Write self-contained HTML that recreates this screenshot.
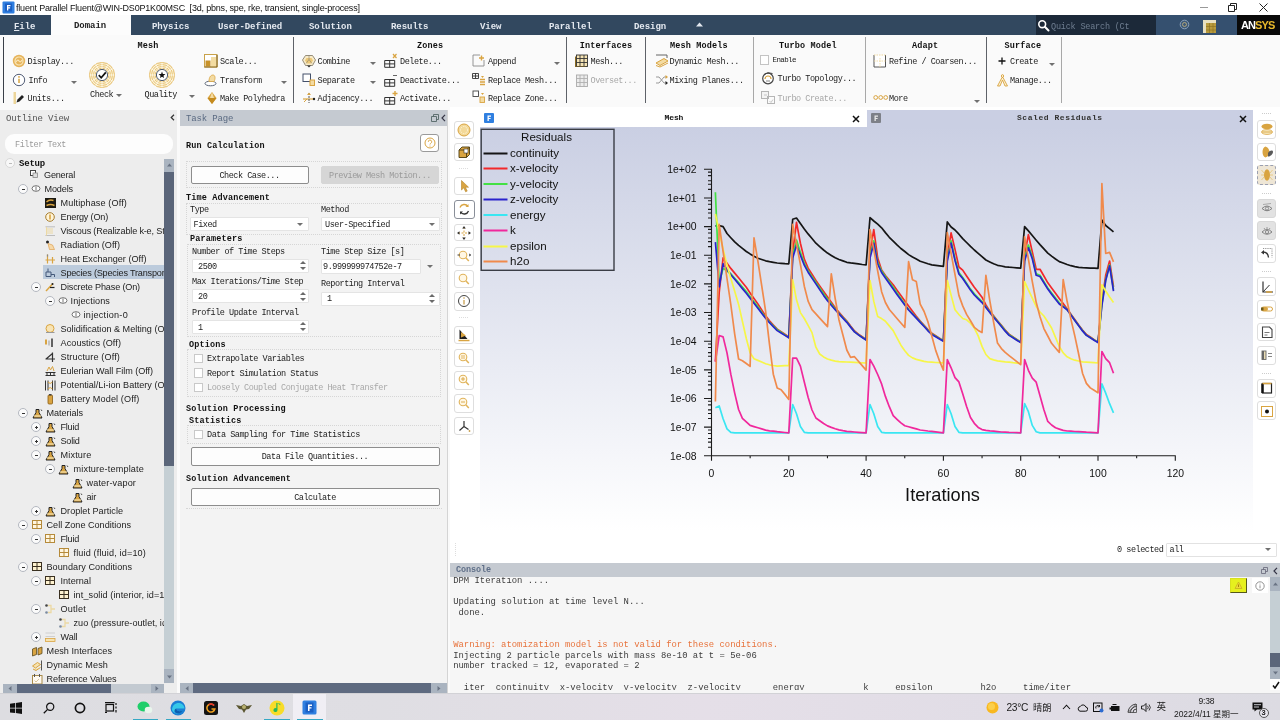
<!DOCTYPE html>
<html><head><meta charset="utf-8"><title>fluent</title>
<style>
*{box-sizing:border-box;margin:0;padding:0}
html,body{width:1280px;height:720px;overflow:hidden;background:#f0f0f0}
body{position:relative;-webkit-font-smoothing:antialiased;font-family:"Liberation Sans","Noto Sans CJK SC",sans-serif;font-size:10px;color:#222}
.a{position:absolute;white-space:nowrap}
#title,#tabbar,#ribbon,#outline,#task,#gfx,#con,#tbar{will-change:transform}
.m{font-family:"Liberation Mono",monospace;font-size:8.5px;letter-spacing:-0.47px;color:#222;line-height:10px}
.b{font-weight:bold;color:#111;letter-spacing:0.15px}
.g{color:#a8a8a8}
.s{font-family:"Liberation Sans","Noto Sans CJK SC",sans-serif;font-size:9.5px;color:#222;line-height:12px}
#title{left:0;top:0;width:1280px;height:15px;background:#fff}
#tabbar{left:0;top:15px;width:1280px;height:19.800px;background:#32485f}
.tab{position:absolute;top:6.500px;font-family:"Liberation Mono",monospace;font-weight:bold;font-size:9px;letter-spacing:-0.05px;color:#e4e9f0;line-height:10px;white-space:nowrap}
#ribbon{left:0;top:35px;width:1280px;height:75px;background:#fafafa}
.sep{position:absolute;top:2px;width:1px;height:66px;background:#70757c}
.dd{position:absolute;width:0;height:0;border-left:3px solid transparent;border-right:3px solid transparent;border-top:3.200px solid #707070;margin-left:-0.500px}
.fld{position:absolute;background:#fff;border:1px solid #e4e4e4;border-radius:1px}

#outline{left:0;top:110px;width:177px;height:583px;background:#ededed}
.tr{position:absolute;font-family:"Liberation Sans",sans-serif;font-size:9.100px;line-height:12px;color:#1d1d1d;white-space:nowrap}
.ex{position:absolute;width:10px;height:10px;border-radius:50%;background:#fbfbfb;border:1px solid #b4b8c0}
.ex:before{content:"";position:absolute;left:2.500px;top:3.500px;width:3px;height:1px;background:#333}
.ex.p:after{content:"";position:absolute;left:3.500px;top:2.500px;width:1px;height:3px;background:#333}

#task{left:177px;top:107px;width:273px;height:586px;background:#fafafa}
#taskb{left:3px;top:19px;width:267px;height:557px;background:#f3f3f3}
.btn{position:absolute;background:#fdfdfd;border:1px solid #8d8d8d;border-radius:2px;text-align:center}
.fld{position:absolute;background:#fff;border:1px solid #e4e4e4;border-radius:1px}
.gb{position:absolute;border:1px dotted #d6d6d6}
.cb{position:absolute;width:9.500px;height:9.500px;background:#fff;border:1px solid #c9c9c9}
.sp{position:absolute;width:6px;height:10px;margin-left:-0.500px;margin-top:-0.500px}
.sp:before{content:"";position:absolute;left:0;top:0;border-left:3px solid transparent;border-right:3px solid transparent;border-bottom:3.500px solid #6a6a6a}
.sp:after{content:"";position:absolute;left:0;top:6px;border-left:3px solid transparent;border-right:3px solid transparent;border-top:3.500px solid #6a6a6a}

#gfx{left:450px;top:107px;width:830px;height:456px;background:#fff}
.tb{position:absolute;width:19px;height:18.500px;background:#fff;border:1px solid #dedede;border-radius:3px}
.ch{font-family:"Liberation Sans",sans-serif;fill:#111}

#con{left:450px;top:563px;width:830px;height:130px;background:#f6f6f6}
.cl{position:absolute;left:3.200px;font-family:"Liberation Mono",monospace;font-size:8.880px;line-height:10.700px;color:#3c3c3c;white-space:pre}

#tbar{left:0;top:693px;width:1280px;height:27px;background:linear-gradient(90deg,#dddde1 0%,#dfdee3 30%,#e5dfe8 55%,#e1dde6 78%,#dcdbe2 100%);border-top:1px solid #d2d2d6}
.tt{position:absolute;font-family:"Liberation Sans","Noto Sans CJK SC",sans-serif;color:#1a1a1a;white-space:nowrap;line-height:12px}
</style></head><body>
<div class="a" id="title">
<svg class="a" style="left:2px;top:1px" width="13" height="13" viewBox="0 0 13 13"><rect x="0.5" y="0.5" width="12" height="12" rx="1" fill="#2f7fe0"/><rect x="3" y="2.5" width="7" height="8" fill="#1b5fc4"/><path d="M5 4h3.5v1.2H6.3v1.1h1.8v1.1H6.3V9.5H5z" fill="#fff"/></svg>
<div class="a s" style="left:16px;top:1.800px;font-size:9px;letter-spacing:-0.19px;color:#111">fluent Parallel Fluent@WIN-DS0P1K00MSC&nbsp; [3d, pbns, spe, rke, transient, single-process]</div>
<div class="a" style="left:1200px;top:7px;width:8px;height:1px;background:#999"></div>
<svg class="a" style="left:1228px;top:3px" width="9" height="9" viewBox="0 0 9 9"><path d="M0.5 2.5h6v6h-6z M2.5 2.5v-2h6v6h-2" fill="none" stroke="#222" stroke-width="1"/></svg>
<svg class="a" style="left:1259px;top:3px" width="9" height="9" viewBox="0 0 9 9"><path d="M0.5 0.5l8 8M8.5 0.5l-8 8" fill="none" stroke="#222" stroke-width="1"/></svg>
</div>
<div class="a" id="tabbar">

<div class="a" style="left:50.500px;top:0;width:80.300px;height:21px;background:#fcfcfc"></div>
<div class="tab" style="left:14px"><u>F</u>ile</div>
<div class="tab" style="left:74px;top:5.500px;color:#222">Domain</div>
<div class="tab" style="left:152px">Physics</div>
<div class="tab" style="left:218px">User-Defined</div>
<div class="tab" style="left:309px">Solution</div>
<div class="tab" style="left:391px">Results</div>
<div class="tab" style="left:480px">View</div>
<div class="tab" style="left:549px">Parallel</div>
<div class="tab" style="left:634px">Design</div>
<svg class="a" style="left:696px;top:7px" width="7" height="5" viewBox="0 0 7 5"><path d="M0 4.5L3.5 0.5L7 4.5z" fill="#e4e9f0"/></svg>
<div class="a" style="left:1036px;top:0;width:120px;height:20px;background:#1c2939"></div>
<div class="a" style="left:1156px;top:0;width:81px;height:20px;background:#35506f"></div>
<svg class="a" style="left:1037px;top:4px" width="13" height="13" viewBox="0 0 13 13"><circle cx="5.2" cy="5.2" r="3.4" fill="none" stroke="#fff" stroke-width="1.6"/><path d="M7.8 7.8L11.5 11.5" stroke="#fff" stroke-width="2" stroke-linecap="round"/></svg>
<div class="tab" style="left:1051px;font-weight:normal;font-size:8.5px;color:#6e7d90;letter-spacing:-0.2px">Quick Search (Ct</div>
<svg class="a" style="left:1179px;top:4px" width="11" height="11" viewBox="0 0 11 11"><circle cx="5.5" cy="5.5" r="4.3" fill="#3e5a7a" stroke="#8aa0b8" stroke-width="1"/><circle cx="5.5" cy="5.5" r="2" fill="none" stroke="#c9b57a" stroke-width="0.8"/></svg>
<svg class="a" style="left:1203px;top:5px" width="13" height="13" viewBox="0 0 13 13"><rect x="0" y="0" width="13" height="13" fill="#e8e0c0"/><rect x="3" y="3" width="10" height="10" fill="#b89a3c"/><path d="M3 6.5h10M3 10h10M6.5 3v10M10 3v10" stroke="#8a6f20" stroke-width="0.6"/></svg>
<div class="a" style="left:1237px;top:0;width:43px;height:20px;background:#0a0a0a"></div>
<div class="a" style="left:1241px;top:4px;font-family:'Liberation Sans',sans-serif;font-weight:bold;font-size:11px;letter-spacing:-0.9px;line-height:12px;color:#fff">AN<span style="color:#e8b92c">SYS</span></div>
</div>
<div class="a" id="ribbon">
<div class="sep" style="left:3px;background:#3a4048"></div>
<div class="sep" style="left:293px;background:#5e6268"></div>
<div class="sep" style="left:566px;background:#5e6268"></div>
<div class="sep" style="left:645px;background:#5e6268"></div>
<div class="sep" style="left:753px;background:#a8a8a8"></div>
<div class="sep" style="left:865px;background:#a8a8a8"></div>
<div class="sep" style="left:986px;background:#5e6268"></div>
<div class="sep" style="left:1061px;background:#a8a8a8"></div>
<div class="a m b" style="left:137.5px;top:6.2px;">Mesh</div>
<div class="a m b" style="left:416.9px;top:6.2px;">Zones</div>
<div class="a m b" style="left:579.8px;top:6.2px;">Interfaces</div>
<div class="a m b" style="left:670.1px;top:6.2px;">Mesh Models</div>
<div class="a m b" style="left:779.1px;top:6.2px;">Turbo Model</div>
<div class="a m b" style="left:911.9px;top:6.2px;">Adapt</div>
<div class="a m b" style="left:1004.6px;top:6.2px;">Surface</div>
<svg class="a" style="left:12px;top:19px" width="14" height="14" viewBox="0 0 14 14"><circle cx="7" cy="7" r="6.200" fill="#e6b45c"/><circle cx="7" cy="7" r="4" fill="none" stroke="#f9e6b8" stroke-width="1.200"/><path d="M4 8q1.500-3 3-1t3-1" fill="none" stroke="#f9e6b8" stroke-width="1.200"/></svg>
<div class="a m" style="left:27.5px;top:22.2px;">Display...</div>
<svg class="a" style="left:12px;top:38px" width="14" height="14" viewBox="0 0 14 14"><circle cx="7" cy="7" r="5.700" fill="#fff" stroke="#3f4c68" stroke-width="0.900"/><path d="M7 5.8v4.2" stroke="#d9a441" stroke-width="1.5"/><circle cx="7" cy="3.9" r="0.9" fill="#d9a441"/></svg>
<div class="a m" style="left:28.5px;top:41.2px;">Info</div>
<div class="dd" style="left:71.5px;top:45.5px"></div>
<svg class="a" style="left:12px;top:56px" width="14" height="14" viewBox="0 0 14 14"><rect x="1.500" y="1" width="2.500" height="12" fill="#ecd59a"/><path d="M4.5 11.5l1-3 4.5-4.5 2 2-4.5 4.5z" fill="#222"/></svg>
<div class="a m" style="left:27.5px;top:59.2px;">Units...</div>
<svg class="a" style="left:88px;top:26px" width="28" height="28" viewBox="0 0 28 28"><circle cx="14" cy="14" r="12.500" fill="#fcf3da" stroke="#e2b657" stroke-width="0.900"/><circle cx="14" cy="14" r="10.5" fill="none" stroke="#e2b657" stroke-width="0.800"/><circle cx="14" cy="14" r="8.5" fill="none" stroke="#e2b657" stroke-width="0.800"/><circle cx="14" cy="14" r="6.8" fill="none" stroke="#e2b657" stroke-width="0.800"/><line x1="20.0" y1="14.0" x2="26.5" y2="14.0" stroke="#fdf6e3" stroke-width="1"/><line x1="19.2" y1="17.0" x2="24.8" y2="20.2" stroke="#fdf6e3" stroke-width="1"/><line x1="17.0" y1="19.2" x2="20.2" y2="24.8" stroke="#fdf6e3" stroke-width="1"/><line x1="14.0" y1="20.0" x2="14.0" y2="26.5" stroke="#fdf6e3" stroke-width="1"/><line x1="11.0" y1="19.2" x2="7.8" y2="24.8" stroke="#fdf6e3" stroke-width="1"/><line x1="8.8" y1="17.0" x2="3.2" y2="20.2" stroke="#fdf6e3" stroke-width="1"/><line x1="8.0" y1="14.0" x2="1.5" y2="14.0" stroke="#fdf6e3" stroke-width="1"/><line x1="8.8" y1="11.0" x2="3.2" y2="7.8" stroke="#fdf6e3" stroke-width="1"/><line x1="11.0" y1="8.8" x2="7.7" y2="3.2" stroke="#fdf6e3" stroke-width="1"/><line x1="14.0" y1="8.0" x2="14.0" y2="1.5" stroke="#fdf6e3" stroke-width="1"/><line x1="17.0" y1="8.8" x2="20.2" y2="3.2" stroke="#fdf6e3" stroke-width="1"/><line x1="19.2" y1="11.0" x2="24.8" y2="7.7" stroke="#fdf6e3" stroke-width="1"/><circle cx="14" cy="14" r="5.6" fill="#fff" stroke="#3a4a63" stroke-width="0.9"/><path d="M10.8 14.2l2.4 2.6 4.6-5.4" fill="none" stroke="#111" stroke-width="1.7"/></svg>
<div class="a m" style="left:90px;top:55.2px;">Check</div>
<div class="dd" style="left:116.5px;top:58.5px"></div>
<svg class="a" style="left:148px;top:26px" width="28" height="28" viewBox="0 0 28 28"><circle cx="14" cy="14" r="12.500" fill="#fcf3da" stroke="#e2b657" stroke-width="0.900"/><circle cx="14" cy="14" r="10.5" fill="none" stroke="#e2b657" stroke-width="0.800"/><circle cx="14" cy="14" r="8.5" fill="none" stroke="#e2b657" stroke-width="0.800"/><circle cx="14" cy="14" r="6.8" fill="none" stroke="#e2b657" stroke-width="0.800"/><line x1="20.0" y1="14.0" x2="26.5" y2="14.0" stroke="#fdf6e3" stroke-width="1"/><line x1="19.2" y1="17.0" x2="24.8" y2="20.2" stroke="#fdf6e3" stroke-width="1"/><line x1="17.0" y1="19.2" x2="20.2" y2="24.8" stroke="#fdf6e3" stroke-width="1"/><line x1="14.0" y1="20.0" x2="14.0" y2="26.5" stroke="#fdf6e3" stroke-width="1"/><line x1="11.0" y1="19.2" x2="7.8" y2="24.8" stroke="#fdf6e3" stroke-width="1"/><line x1="8.8" y1="17.0" x2="3.2" y2="20.2" stroke="#fdf6e3" stroke-width="1"/><line x1="8.0" y1="14.0" x2="1.5" y2="14.0" stroke="#fdf6e3" stroke-width="1"/><line x1="8.8" y1="11.0" x2="3.2" y2="7.8" stroke="#fdf6e3" stroke-width="1"/><line x1="11.0" y1="8.8" x2="7.7" y2="3.2" stroke="#fdf6e3" stroke-width="1"/><line x1="14.0" y1="8.0" x2="14.0" y2="1.5" stroke="#fdf6e3" stroke-width="1"/><line x1="17.0" y1="8.8" x2="20.2" y2="3.2" stroke="#fdf6e3" stroke-width="1"/><line x1="19.2" y1="11.0" x2="24.8" y2="7.7" stroke="#fdf6e3" stroke-width="1"/><circle cx="14" cy="14" r="5.6" fill="#fff" stroke="#3a4a63" stroke-width="0.9"/><polygon points="14.00,10.60 14.89,12.98 17.42,13.09 15.44,14.67 16.12,17.11 14.00,15.71 11.88,17.11 12.56,14.67 10.58,13.09 13.11,12.98" fill="#111"/></svg>
<div class="a m" style="left:144.5px;top:55.2px;">Quality</div>
<div class="dd" style="left:189.5px;top:59.5px"></div>
<svg class="a" style="left:204px;top:19px" width="14" height="14" viewBox="0 0 14 14"><rect x="0.500" y="0.500" width="12.500" height="12.500" fill="#fff" stroke="#c9a24a" stroke-width="1"/><rect x="1.500" y="6.500" width="5" height="6" fill="#c8922a"/><rect x="7" y="3" width="5" height="9.500" fill="#f3dca2"/><path d="M0.500 13h12.500M13 1v12" stroke="#8a6a20" stroke-width="1.200"/></svg>
<div class="a m" style="left:220px;top:22.2px;">Scale...</div>
<svg class="a" style="left:204px;top:38px" width="14" height="14" viewBox="0 0 14 14"><ellipse cx="6.5" cy="10.5" rx="5.5" ry="2.3" fill="#fff" stroke="#5b6577" stroke-width="1"/><path d="M5 8.5c0-4 1.5-6.5 4-6.5s2.5 4 1 6.5z" fill="#f3dba3" stroke="#d9a441" stroke-width="0.8"/></svg>
<div class="a m" style="left:220px;top:41.2px;">Transform</div>
<div class="dd" style="left:281.5px;top:45.5px"></div>
<svg class="a" style="left:205px;top:56px" width="14" height="14" viewBox="0 0 14 14"><path d="M7 1l4.5 6-4.5 6-4.5-6z" fill="#d9a441"/><path d="M2.5 7h9l-4.5 6z" fill="#c48a1e"/><path d="M7 1l2 6h-4z" fill="#f3dba3"/></svg>
<div class="a m" style="left:220px;top:59.2px;">Make Polyhedra</div>
<svg class="a" style="left:302px;top:19px" width="14" height="14" viewBox="0 0 14 14"><path d="M3.500 1.500h7l3 4.500-3 5.500h-7l-3-5.500z" fill="#f8ebc8" stroke="#8a8270" stroke-width="0.900"/><path d="M4.500 4h5l1.500 2.500-2 3h-4l-2-3z" fill="#ecc878"/><path d="M7 1.500v4l-3 4M7 5.500l3 4" fill="none" stroke="#8a8270" stroke-width="0.600"/><path d="M5 11.5l2 2 2-2" fill="#333"/></svg>
<div class="a m" style="left:317.5px;top:22.2px;">Combine</div>
<div class="dd" style="left:370.5px;top:26.5px"></div>
<svg class="a" style="left:302px;top:38px" width="14" height="14" viewBox="0 0 14 14"><rect x="1" y="1" width="7.5" height="7.5" fill="#fff" stroke="#44506a" stroke-width="1"/><rect x="8" y="7" width="4.5" height="5.5" fill="#f3dba3" stroke="#d9a441" stroke-width="1"/></svg>
<div class="a m" style="left:317.5px;top:41.2px;">Separate</div>
<div class="dd" style="left:370.5px;top:45.5px"></div>
<svg class="a" style="left:302px;top:56px" width="14" height="14" viewBox="0 0 14 14"><path d="M1 8h11" stroke="#d9a441" stroke-width="1.2"/><path d="M7 2v10" stroke="#555" stroke-width="1" stroke-dasharray="2 1"/><path d="M5 4l2-2.5 2 2.5z" fill="#d9a441"/><circle cx="12" cy="8" r="1.2" fill="#222"/><path d="M2 11l3-3" stroke="#d9a441" stroke-width="1"/></svg>
<div class="a m" style="left:317.5px;top:59.2px;">Adjacency...</div>
<svg class="a" style="left:384px;top:17.5px" width="14" height="15" viewBox="0 0 14 15"><path d="M0.700 7.500h10v6.800h-10zM0.700 10.900h10M5.700 7.500v6.800" fill="none" stroke="#333" stroke-width="1"/><path d="M9 1l3.500 4M12.500 1l-3.500 4" stroke="#d9a441" stroke-width="1.200"/></svg>
<div class="a m" style="left:400px;top:22.2px;">Delete...</div>
<svg class="a" style="left:384px;top:36.5px" width="14" height="15" viewBox="0 0 14 15"><path d="M0.700 7.500h10v6.800h-10zM0.700 10.900h10M5.700 7.500v6.800" fill="none" stroke="#333" stroke-width="1"/><path d="M9 3.500h4" stroke="#666" stroke-width="1"/></svg>
<div class="a m" style="left:400px;top:41.2px;">Deactivate...</div>
<svg class="a" style="left:384px;top:54.5px" width="14" height="15" viewBox="0 0 14 15"><path d="M0.700 7.500h10v6.800h-10zM0.700 10.900h10M5.700 7.500v6.800" fill="none" stroke="#333" stroke-width="1"/><path d="M8.500 3.500h5M11 1v5" stroke="#d9a441" stroke-width="1.400"/></svg>
<div class="a m" style="left:400px;top:59.2px;">Activate...</div>
<svg class="a" style="left:472px;top:19px" width="14" height="14" viewBox="0 0 14 14"><path d="M1 1h7M1 1v11h11v-6" fill="none" stroke="#8a8a8a" stroke-width="0.900"/><path d="M7 4h5M9.5 1.5v5" stroke="#d9a441" stroke-width="1.4"/></svg>
<div class="a m" style="left:488px;top:22.2px;">Append</div>
<div class="dd" style="left:554.5px;top:26.5px"></div>
<svg class="a" style="left:472px;top:37px" width="14" height="14" viewBox="0 0 14 14"><path d="M0.5 1.5h6v5h-6zM0.5 4h6M3.5 1.5v5" fill="none" stroke="#333" stroke-width="0.9"/><path d="M8 7.5h5M8 10h5M8 12.5h5" stroke="#d9a441" stroke-width="1.5"/><path d="M9 4l1.5 2 1.5-2" fill="#d9a441"/></svg>
<div class="a m" style="left:488px;top:41.2px;">Replace Mesh...</div>
<svg class="a" style="left:472px;top:55px" width="14" height="14" viewBox="0 0 14 14"><rect x="1" y="1" width="5.5" height="5.5" fill="#fff" stroke="#444" stroke-width="0.9"/><rect x="8" y="7" width="4.5" height="5.5" fill="#f3dba3" stroke="#d9a441" stroke-width="0.9"/><path d="M9 3l1.5 2 1.5-2" fill="#d9a441"/></svg>
<div class="a m" style="left:488px;top:59.2px;">Replace Zone...</div>
<svg class="a" style="left:574.5px;top:19px" width="13" height="13" viewBox="0 0 13 13"><rect x="1.500" y="1" width="11" height="11.500" fill="#f6e4b4" stroke="#333" stroke-width="0.900"/><path d="M1.500 4.500h11M1.500 8.500h11M5 1v11.500M9 1v11.500" stroke="#333" stroke-width="0.900"/><path d="M0.500 2.500v10.500h10" fill="none" stroke="#8a6a20" stroke-width="1"/></svg>
<div class="a m" style="left:590.5px;top:22.2px;">Mesh...</div>
<svg class="a" style="left:574.5px;top:38.5px" width="13" height="13" viewBox="0 0 13 13"><rect x="1.500" y="1" width="11" height="11.500" fill="#ececec" stroke="#aaa" stroke-width="0.900"/><path d="M1.500 4.500h11M1.500 8.500h11M5 1v11.500M9 1v11.500" stroke="#b0b0b0" stroke-width="0.900"/></svg>
<div class="a m g" style="left:590.5px;top:41.2px;">Overset...</div>
<svg class="a" style="left:655px;top:19px" width="14" height="14" viewBox="0 0 14 14"><path d="M1 1h11v3" fill="none" stroke="#555" stroke-width="0.9"/><path d="M1 9l8-4.5 4 2.5-8 4.5z" fill="#f3dba3" stroke="#d9a441" stroke-width="1"/><path d="M1 11.5l4 1.5 8-4" fill="none" stroke="#d9a441" stroke-width="1"/></svg>
<div class="a m" style="left:669.5px;top:22.2px;">Dynamic Mesh...</div>
<svg class="a" style="left:655px;top:38px" width="14" height="14" viewBox="0 0 14 14"><path d="M1 4h3l5 6h3M1 10h3l5-6h3" fill="none" stroke="#999" stroke-width="1"/><path d="M10.5 2l2.5 2-2.5 2z" fill="#d9a441"/><path d="M10.5 8l2.5 2-2.5 2z" fill="#222"/></svg>
<div class="a m" style="left:669.5px;top:41.2px;">Mixing Planes...</div>
<div class="a" style="left:759.5px;top:20px;width:9.5px;height:9.5px;background:#fff;border:1px solid #c4c4c4"></div>
<div class="a m" style="left:772.5px;top:20.2px;font-size:7.5px;letter-spacing:-0.6px">Enable</div>
<svg class="a" style="left:761px;top:36px" width="14" height="14" viewBox="0 0 14 14"><circle cx="7" cy="7.5" r="5.3" fill="#fff" stroke="#444" stroke-width="1.2"/><path d="M3 3.5q4-3 8.5-1" fill="none" stroke="#444" stroke-width="1"/><path d="M4 8a3 3 0 0 1 6 0" fill="none" stroke="#d9a441" stroke-width="1.2"/><path d="M5 10h4" stroke="#666" stroke-width="0.8"/></svg>
<div class="a m" style="left:777.5px;top:39.2px;">Turbo Topology...</div>
<svg class="a" style="left:761px;top:56px" width="14" height="14" viewBox="0 0 14 14"><rect x="0.5" y="0.5" width="7" height="7" fill="#f4f4f4" stroke="#b5b5b5" stroke-width="1"/><rect x="6.5" y="5.5" width="7" height="7" fill="none" stroke="#b5b5b5" stroke-width="1"/><path d="M3 4h3M8.5 10l1.5 1.5 2-3" stroke="#bbb" fill="none" stroke-width="0.8"/></svg>
<div class="a m g" style="left:777.5px;top:59.2px;">Turbo Create...</div>
<svg class="a" style="left:873px;top:19px" width="14" height="14" viewBox="0 0 14 14"><path d="M1 1v12h11.5v-12" fill="#fff" stroke="#555" stroke-width="1"/><path d="M1 1h11.5" stroke="#f0d9a0" stroke-width="1" stroke-dasharray="1.5 1"/><path d="M1 7h11.5M7 4v9" stroke="#f0d9a0" stroke-width="0.9" stroke-dasharray="1.5 1"/></svg>
<div class="a m" style="left:889px;top:22.2px;">Refine / Coarsen...</div>
<svg class="a" style="left:873px;top:59px" width="16" height="7" viewBox="0 0 16 7"><circle cx="2.7" cy="3.5" r="1.9" fill="none" stroke="#d9a441" stroke-width="1"/><circle cx="7.7" cy="3.5" r="1.9" fill="none" stroke="#d9a441" stroke-width="1"/><circle cx="12.7" cy="3.5" r="1.9" fill="none" stroke="#d9a441" stroke-width="1"/></svg>
<div class="a m" style="left:889px;top:59.2px;">More</div>
<div class="dd" style="left:974.5px;top:64.5px"></div>
<svg class="a" style="left:997px;top:21px" width="10" height="10" viewBox="0 0 10 10"><path d="M1.5 5h7M5 1.5v7" stroke="#111" stroke-width="1.3"/></svg>
<div class="a m" style="left:1010px;top:22.2px;">Create</div>
<div class="dd" style="left:1049.5px;top:27.5px"></div>
<svg class="a" style="left:996px;top:38px" width="13" height="14" viewBox="0 0 13 14"><path d="M6.5 1.5c-1.5 0-1.5 3 0 3s1.5-3 0-3zM6 4.5l-4.5 8.5h2.5l2.5-6 2.5 6h2.500l-4.500-8.5z" fill="#fbf0d0" stroke="#d9a441" stroke-width="0.9"/></svg>
<div class="a m" style="left:1010px;top:41.2px;">Manage...</div>
</div>
<div class="a" id="outline">
<div class="a m" style="left:6px;top:4px;font-size:9px;letter-spacing:-0.15px;color:#555">Outline View</div>
<svg class="a" style="left:169.5px;top:4px" width="5" height="7" viewBox="0 0 5 7"><path d="M4 0.800l-2.800 2.700 2.800 2.700" fill="none" stroke="#333" stroke-width="1.200"/></svg>
<div class="a" style="left:5px;top:24px;width:168px;height:20px;background:#fdfdfd;border-radius:9px"></div>
<div class="a m g" style="left:15px;top:30.2px;font-size:8.5px;color:#9a9a9a">Filter Text</div>
<div class="a" style="left:0;top:47px;width:164px;height:527px;overflow:hidden">
<div class="a" style="left:43px;top:108px;width:130px;height:14px;background:#bccbdc"></div>
<div class="a" style="left:5px;top:1px;width:10px;height:10px;border-radius:50%;background:#f8f8f8;border:1px solid #d8d8d8"></div><div class="a" style="left:8.500px;top:5.5px;width:3px;height:1px;background:#bbb"></div>
<div class="a m b" style="left:19px;top:2.2px;font-size:9px;letter-spacing:-0.2px">Setup</div>
<svg class="a" style="left:30.3px;top:13.1px" width="11" height="11" viewBox="0 0 11 11"><rect x="0.5" y="0.500" width="5" height="5" fill="#fff" stroke="#444" stroke-width="1"/><rect x="3" y="3" width="4.500" height="4.500" fill="#ddd" stroke="#888" stroke-width="0.8"/></svg>
<div class="tr" style="left:44px;top:11.800000000000011px;letter-spacing:-0.194px">General</div>
<div class="ex " style="left:18px;top:27.30000000000001px"></div>
<svg class="a" style="left:30.8px;top:27.1px" width="11" height="11" viewBox="0 0 11 11"><ellipse cx="5" cy="4.500" rx="4" ry="2.800" fill="#fff" stroke="#666" stroke-width="0.9"/><path d="M5 2.500v4" stroke="#666" stroke-width="0.9"/></svg>
<div class="tr" style="left:44.5px;top:25.80000000000001px;letter-spacing:-0.138px">Models</div>
<svg class="a" style="left:45.3px;top:41.1px" width="11" height="11" viewBox="0 0 11 11"><rect x="0" y="0" width="11" height="10" fill="#1c1a12"/><path d="M1.500 4q3-3 7-1.500M1.500 7.500q4-2 8 0" fill="none" stroke="#d9a441" stroke-width="1.400"/></svg>
<div class="tr" style="left:60.5px;top:39.80000000000001px;letter-spacing:0.123px">Multiphase (Off)</div>
<svg class="a" style="left:45.3px;top:55.1px" width="11" height="11" viewBox="0 0 11 11"><circle cx="5" cy="5" r="4.300" fill="#fff4d8" stroke="#a77c2c" stroke-width="1"/><path d="M5 2.500v5" stroke="#d9a441" stroke-width="1.600"/></svg>
<div class="tr" style="left:60.5px;top:53.80000000000001px;letter-spacing:-0.185px">Energy (On)</div>
<svg class="a" style="left:45.3px;top:69.1px" width="11" height="11" viewBox="0 0 11 11"><path d="M0.500 0.800h9.500M0.500 9.500h9.500" stroke="#bdbdbd" stroke-width="1"/><path d="M2 3h6M2 5h6M2 7h6" stroke="#ecd9a4" stroke-width="1"/><path d="M1.500 1v8.500" stroke="#ecd9a4" stroke-width="1"/></svg>
<div class="tr" style="left:60.5px;top:67.80000000000001px;letter-spacing:-0.167px">Viscous (Realizable k-e, St</div>
<svg class="a" style="left:45.3px;top:83.1px" width="11" height="11" viewBox="0 0 11 11"><circle cx="2.500" cy="2" r="1.500" fill="#222"/><path d="M3 3.500l1.500 6h5l-2-4.500z" fill="#f6d9a8" stroke="#e0a050" stroke-width="0.700"/></svg>
<div class="tr" style="left:60.5px;top:81.80000000000001px;letter-spacing:0.035px">Radiation (Off)</div>
<svg class="a" style="left:45.3px;top:97.1px" width="11" height="11" viewBox="0 0 11 11"><path d="M2.500 0.500v9M7.500 3v6.500M0.500 6h9.500" stroke="#d9a441" stroke-width="1.200"/><path d="M2.500 0.500v2" stroke="#888" stroke-width="1.200"/></svg>
<div class="tr" style="left:60.5px;top:95.80000000000001px;letter-spacing:0.012px">Heat Exchanger (Off)</div>
<svg class="a" style="left:45.3px;top:111.1px" width="11" height="11" viewBox="0 0 11 11"><path d="M3 0.500v3.500M1 4h5v4.500h-5zM6 6.500h3.500v2.500" fill="none" stroke="#44597a" stroke-width="1"/></svg>
<div class="tr" style="left:60.5px;top:109.80000000000001px;letter-spacing:-0.187px">Species (Species Transpor</div>
<div class="ex " style="left:31px;top:125.30000000000001px"></div>
<svg class="a" style="left:45.3px;top:125.1px" width="11" height="11" viewBox="0 0 11 11"><path d="M1 9l7-7.500" stroke="#d9a441" stroke-width="1.500"/><path d="M5 5.500h4.500" stroke="#222" stroke-width="1.200"/><circle cx="7.500" cy="2" r="1" fill="#222"/></svg>
<div class="tr" style="left:60.5px;top:123.80000000000001px;letter-spacing:-0.152px">Discrete Phase (On)</div>
<div class="ex " style="left:45px;top:139.3px"></div>
<svg class="a" style="left:57.8px;top:139.1px" width="11" height="11" viewBox="0 0 11 11"><ellipse cx="5" cy="4.500" rx="4" ry="2.800" fill="#fff" stroke="#666" stroke-width="0.9"/><path d="M5 2.500v4" stroke="#666" stroke-width="0.9"/></svg>
<div class="tr" style="left:70.5px;top:137.8px;letter-spacing:0.108px">Injections</div>
<svg class="a" style="left:70.8px;top:153.1px" width="11" height="11" viewBox="0 0 11 11"><ellipse cx="5" cy="4.500" rx="4" ry="2.800" fill="#fff" stroke="#666" stroke-width="0.9"/><path d="M5 2.500v4" stroke="#666" stroke-width="0.9"/></svg>
<div class="tr" style="left:83.5px;top:151.8px;letter-spacing:0.277px">injection-0</div>
<svg class="a" style="left:45.3px;top:167.1px" width="11" height="11" viewBox="0 0 11 11"><circle cx="5" cy="4.500" r="4" fill="#f8e4b4" stroke="#d9a441" stroke-width="1"/><path d="M1 8.500h8.500" stroke="#999" stroke-width="1"/></svg>
<div class="tr" style="left:60.5px;top:165.8px;letter-spacing:-0.005px">Solidification &amp; Melting (O</div>
<svg class="a" style="left:45.3px;top:181.1px" width="11" height="11" viewBox="0 0 11 11"><rect x="0" y="1.500" width="2" height="5" fill="#d9a441"/><path d="M4 2.500v5" stroke="#999" stroke-width="1"/><path d="M7 0.500v8.500" stroke="#333" stroke-width="1.500"/></svg>
<div class="tr" style="left:60.5px;top:179.8px;letter-spacing:0.069px">Acoustics (Off)</div>
<svg class="a" style="left:45.3px;top:195.1px" width="11" height="11" viewBox="0 0 11 11"><path d="M0.500 7h9.500M7.500 0.500v9.500M1 7l6.500-5.500" fill="none" stroke="#333" stroke-width="1.200"/></svg>
<div class="tr" style="left:60.5px;top:193.8px;letter-spacing:0.136px">Structure (Off)</div>
<svg class="a" style="left:45.3px;top:209.1px" width="11" height="11" viewBox="0 0 11 11"><path d="M0.500 6.500h10M0.500 9.500h10M2 6.500v3M5.500 6.500v3M9 6.500v3" stroke="#333" stroke-width="1"/><path d="M2 5l2-4 1.500 3 2-3.500 1.500 4.500" fill="none" stroke="#d9a441" stroke-width="1"/></svg>
<div class="tr" style="left:60.5px;top:207.8px;letter-spacing:-0.041px">Eulerian Wall Film (Off)</div>
<svg class="a" style="left:45.3px;top:223.1px" width="11" height="11" viewBox="0 0 11 11"><path d="M0.500 0.500v10M10 0.500v10M3 0.500v10M7.500 0.500v10" stroke="#333" stroke-width="1"/><path d="M3 2q2 3 4.500 0M3 9q2-3 4.500 0" fill="none" stroke="#d9a441" stroke-width="1"/></svg>
<div class="tr" style="left:60.5px;top:221.8px;letter-spacing:-0.005px">Potential/Li-ion Battery (O</div>
<svg class="a" style="left:45.3px;top:237.1px" width="11" height="11" viewBox="0 0 11 11"><rect x="3" y="1" width="4.500" height="9" rx="1" fill="#d9a441" stroke="#8a5a10" stroke-width="0.800"/><rect x="4" y="0" width="2.500" height="1.500" fill="#444"/></svg>
<div class="tr" style="left:60.5px;top:235.8px;letter-spacing:0.123px">Battery Model (Off)</div>
<div class="ex " style="left:18px;top:251.3px"></div>
<svg class="a" style="left:31.8px;top:251.1px" width="11" height="11" viewBox="0 0 11 11"><path d="M4 1.5h3v3l3 5.500h-9l3-5.500z" fill="#d9a441" stroke="#222" stroke-width="1"/><path d="M2 8h7" stroke="#f6e3b0" stroke-width="1.2"/><path d="M9 1.500l1 1.500" stroke="#222" stroke-width="0.8"/></svg>
<div class="tr" style="left:46.5px;top:249.8px;letter-spacing:-0.043px">Materials</div>
<div class="ex p" style="left:31px;top:265.3px"></div>
<svg class="a" style="left:45.3px;top:265.1px" width="11" height="11" viewBox="0 0 11 11"><path d="M4 1.5h3v3l3 5.500h-9l3-5.500z" fill="#d9a441" stroke="#222" stroke-width="1"/><path d="M2 8h7" stroke="#f6e3b0" stroke-width="1.2"/><path d="M9 1.500l1 1.500" stroke="#222" stroke-width="0.8"/></svg>
<div class="tr" style="left:60.5px;top:263.8px;letter-spacing:-0.244px">Fluid</div>
<div class="ex p" style="left:31px;top:279.3px"></div>
<svg class="a" style="left:45.3px;top:279.1px" width="11" height="11" viewBox="0 0 11 11"><path d="M4 1.5h3v3l3 5.500h-9l3-5.500z" fill="#d9a441" stroke="#222" stroke-width="1"/><path d="M2 8h7" stroke="#f6e3b0" stroke-width="1.2"/><path d="M9 1.500l1 1.500" stroke="#222" stroke-width="0.8"/></svg>
<div class="tr" style="left:60.5px;top:277.8px;letter-spacing:-0.247px">Solid</div>
<div class="ex " style="left:31px;top:293.3px"></div>
<svg class="a" style="left:45.3px;top:293.1px" width="11" height="11" viewBox="0 0 11 11"><path d="M4 1.5h3v3l3 5.500h-9l3-5.500z" fill="#d9a441" stroke="#222" stroke-width="1"/><path d="M2 8h7" stroke="#f6e3b0" stroke-width="1.2"/><path d="M9 1.500l1 1.500" stroke="#222" stroke-width="0.8"/></svg>
<div class="tr" style="left:60.5px;top:291.8px;letter-spacing:0.17px">Mixture</div>
<div class="ex " style="left:45px;top:307.3px"></div>
<svg class="a" style="left:58.3px;top:307.1px" width="11" height="11" viewBox="0 0 11 11"><path d="M4 1.5h3v3l3 5.500h-9l3-5.500z" fill="#d9a441" stroke="#222" stroke-width="1"/><path d="M2 8h7" stroke="#f6e3b0" stroke-width="1.2"/><path d="M9 1.500l1 1.500" stroke="#222" stroke-width="0.8"/></svg>
<div class="tr" style="left:73.5px;top:305.8px;letter-spacing:0.173px">mixture-template</div>
<svg class="a" style="left:71.8px;top:321.1px" width="11" height="11" viewBox="0 0 11 11"><path d="M4 1.5h3v3l3 5.500h-9l3-5.500z" fill="#d9a441" stroke="#222" stroke-width="1"/><path d="M2 8h7" stroke="#f6e3b0" stroke-width="1.2"/><path d="M9 1.500l1 1.500" stroke="#222" stroke-width="0.8"/></svg>
<div class="tr" style="left:86.5px;top:319.8px;letter-spacing:0.135px">water-vapor</div>
<svg class="a" style="left:71.8px;top:335.1px" width="11" height="11" viewBox="0 0 11 11"><path d="M4 1.5h3v3l3 5.500h-9l3-5.500z" fill="#d9a441" stroke="#222" stroke-width="1"/><path d="M2 8h7" stroke="#f6e3b0" stroke-width="1.2"/><path d="M9 1.500l1 1.500" stroke="#222" stroke-width="0.8"/></svg>
<div class="tr" style="left:86.5px;top:333.8px;letter-spacing:-0.203px">air</div>
<div class="ex p" style="left:31px;top:349.3px"></div>
<svg class="a" style="left:45.3px;top:349.1px" width="11" height="11" viewBox="0 0 11 11"><path d="M4 1.5h3v3l3 5.500h-9l3-5.500z" fill="#d9a441" stroke="#222" stroke-width="1"/><path d="M2 8h7" stroke="#f6e3b0" stroke-width="1.2"/><path d="M9 1.500l1 1.500" stroke="#222" stroke-width="0.8"/></svg>
<div class="tr" style="left:60.5px;top:347.8px;letter-spacing:0.021px">Droplet Particle</div>
<div class="ex " style="left:18px;top:363.29999999999995px"></div>
<svg class="a" style="left:31.8px;top:363.1px" width="11" height="11" viewBox="0 0 11 11"><rect x="0.5" y="0.5" width="9" height="8" fill="#fff6e0" stroke="#b58a3a" stroke-width="1"/><path d="M0.5 4.500h9M5 0.500v8" stroke="#b58a3a" stroke-width="1"/></svg>
<div class="tr" style="left:46.5px;top:361.79999999999995px;letter-spacing:0.004px">Cell Zone Conditions</div>
<div class="ex " style="left:31px;top:377.29999999999995px"></div>
<svg class="a" style="left:45.3px;top:377.1px" width="11" height="11" viewBox="0 0 11 11"><rect x="0.5" y="0.5" width="9" height="8" fill="#fff6e0" stroke="#b58a3a" stroke-width="1"/><path d="M0.5 4.500h9M5 0.500v8" stroke="#b58a3a" stroke-width="1"/></svg>
<div class="tr" style="left:60.5px;top:375.79999999999995px;letter-spacing:-0.244px">Fluid</div>
<svg class="a" style="left:58.8px;top:391.1px" width="11" height="11" viewBox="0 0 11 11"><rect x="0.5" y="0.5" width="9" height="8" fill="#fff6e0" stroke="#b58a3a" stroke-width="1"/><path d="M0.5 4.500h9M5 0.500v8" stroke="#b58a3a" stroke-width="1"/></svg>
<div class="tr" style="left:73.5px;top:389.79999999999995px;letter-spacing:0.149px">fluid (fluid, id=10)</div>
<div class="ex " style="left:18px;top:405.29999999999995px"></div>
<svg class="a" style="left:31.8px;top:405.1px" width="11" height="11" viewBox="0 0 11 11"><rect x="0.5" y="0.5" width="9" height="8" fill="#fff3d0" stroke="#3a3020" stroke-width="1"/><path d="M0.5 4.500h9M5 0.500v8" stroke="#3a3020" stroke-width="1"/></svg>
<div class="tr" style="left:46.5px;top:403.79999999999995px;letter-spacing:0.056px">Boundary Conditions</div>
<div class="ex " style="left:31px;top:419.29999999999995px"></div>
<svg class="a" style="left:45.3px;top:419.1px" width="11" height="11" viewBox="0 0 11 11"><rect x="0.5" y="0.5" width="9" height="8" fill="#fff3d0" stroke="#3a3020" stroke-width="1"/><path d="M0.5 4.500h9M5 0.500v8" stroke="#3a3020" stroke-width="1"/></svg>
<div class="tr" style="left:60.5px;top:417.79999999999995px;letter-spacing:0.02px">Internal</div>
<svg class="a" style="left:58.8px;top:433.1px" width="11" height="11" viewBox="0 0 11 11"><rect x="0.5" y="0.5" width="9" height="8" fill="#fff3d0" stroke="#3a3020" stroke-width="1"/><path d="M0.5 4.500h9M5 0.500v8" stroke="#3a3020" stroke-width="1"/></svg>
<div class="tr" style="left:73.5px;top:431.79999999999995px;letter-spacing:0.091px">int_solid (interior, id=1</div>
<div class="ex " style="left:31px;top:447.29999999999995px"></div>
<svg class="a" style="left:45.3px;top:447.1px" width="11" height="11" viewBox="0 0 11 11"><circle cx="1.500" cy="1.500" r="1.300" fill="#444"/><circle cx="1.500" cy="8.500" r="1.300" fill="#7a8aa0"/><path d="M3 1.500h3v3.500h4M3 8.500h3v-3.500" fill="none" stroke="#ecd9a4" stroke-width="1.300"/></svg>
<div class="tr" style="left:60.5px;top:445.79999999999995px;letter-spacing:0.206px">Outlet</div>
<svg class="a" style="left:58.8px;top:461.1px" width="11" height="11" viewBox="0 0 11 11"><circle cx="1.500" cy="1.500" r="1.300" fill="#444"/><circle cx="1.500" cy="8.500" r="1.300" fill="#7a8aa0"/><path d="M3 1.500h3v3.500h4M3 8.500h3v-3.500" fill="none" stroke="#ecd9a4" stroke-width="1.300"/></svg>
<div class="tr" style="left:73.5px;top:459.79999999999995px;letter-spacing:0.02px">zuo (pressure-outlet, id</div>
<div class="ex p" style="left:31px;top:475.29999999999995px"></div>
<svg class="a" style="left:45.3px;top:475.1px" width="11" height="11" viewBox="0 0 11 11"><path d="M0.500 1h9.500M0.500 4.500h9.500" stroke="#cfcfcf" stroke-width="1"/><rect x="0.500" y="6.500" width="9.500" height="3" fill="#f6e3b0" stroke="#d9a441" stroke-width="0.800"/></svg>
<div class="tr" style="left:60.5px;top:473.79999999999995px;letter-spacing:-0.086px">Wall</div>
<svg class="a" style="left:31.8px;top:489.1px" width="11" height="11" viewBox="0 0 11 11"><path d="M0.500 3l4-1.500v7l-4 1.500zM6 2.500l4-1.500v6.500l-4 1.500z" fill="#d9a441" stroke="#5a4a20" stroke-width="0.800"/></svg>
<div class="tr" style="left:46.5px;top:487.79999999999995px;letter-spacing:0.053px">Mesh Interfaces</div>
<svg class="a" style="left:31.8px;top:503.1px" width="11" height="11" viewBox="0 0 11 11"><path d="M9.500 0.500v10" stroke="#555" stroke-width="1"/><path d="M0.500 6l5-3.500 3 2-5 3.500zM1 9l3 1.500 4.500-3" fill="#f6e3b0" stroke="#d9a441" stroke-width="1"/></svg>
<div class="tr" style="left:46.5px;top:501.79999999999995px;letter-spacing:0.113px">Dynamic Mesh</div>
<svg class="a" style="left:31.8px;top:517.1px" width="11" height="11" viewBox="0 0 11 11"><rect x="0.500" y="1.500" width="9.500" height="8.500" fill="#fffaf0" stroke="#a98b4a" stroke-width="1"/><path d="M2.500 0v3M7.500 0v3" stroke="#555" stroke-width="1"/><path d="M2.500 6.500l1.500 1.500 3-3" fill="none" stroke="#d8c49a" stroke-width="1"/></svg>
<div class="tr" style="left:46.5px;top:515.8px;letter-spacing:-0.102px">Reference Values</div>
</div>
<div class="a" style="left:164px;top:49px;width:10px;height:524px;background:#c5cfd4"></div>
<div class="a" style="left:164px;top:49px;width:10px;height:13px;background:#aab4c0"></div>
<svg class="a" style="left:166.5px;top:53px" width="5" height="4" viewBox="0 0 5 4"><path d="M0 3.500l2.500-3 2.500 3z" fill="#6a7484"/></svg>
<div class="a" style="left:164px;top:62px;width:10px;height:294px;background:#5b667a"></div>
<div class="a" style="left:164px;top:559px;width:10px;height:14px;background:#aab4c0"></div>
<svg class="a" style="left:166.5px;top:565px" width="5" height="4" viewBox="0 0 5 4"><path d="M0 0.500l2.500 3 2.500-3z" fill="#6a7484"/></svg>
<div class="a" style="left:3px;top:574px;width:161px;height:9px;background:#c3cad1"></div>
<div class="a" style="left:3px;top:574px;width:14px;height:9px;background:#aab4c0"></div>
<div class="a" style="left:151px;top:574px;width:13px;height:9px;background:#aab4c0"></div>
<div class="a" style="left:17px;top:574px;width:94px;height:9px;background:#5e6a80"></div>
<svg class="a" style="left:8px;top:576px" width="4" height="5" viewBox="0 0 4 5"><path d="M3.500 0l-3 2.500 3 2.500z" fill="#6a7484"/></svg>
<svg class="a" style="left:155px;top:576px" width="4" height="5" viewBox="0 0 4 5"><path d="M0.500 0l3 2.500-3 2.500z" fill="#6a7484"/></svg>
</div>
<div class="a" id="task">
<div class="a" id="taskb"></div>
<div class="a" style="left:3px;top:3px;width:267px;height:16px;background:#c5cad1"></div>
<div class="a m" style="left:9px;top:6.8000000000000025px;font-size:9px;letter-spacing:-0.15px;color:#5a6a82">Task Page</div>
<svg class="a" style="left:254px;top:7px" width="8" height="8" viewBox="0 0 8 8"><path d="M0.500 2.500h5v5h-5zM2.500 2.500v-2h5v5h-2" fill="none" stroke="#566" stroke-width="0.900"/></svg>
<svg class="a" style="left:264px;top:7px" width="5" height="8" viewBox="0 0 5 8"><path d="M4 0.800l-3 3.200 3 3.200" fill="none" stroke="#334" stroke-width="1.200"/></svg>
<div class="a m b" style="left:9px;top:33.6px;">Run Calculation</div>
<div class="btn" style="left:243px;top:27px;width:19px;height:18px;border-color:#9a9a9a;border-radius:3px;background:#fff"></div>
<svg class="a" style="left:246.5px;top:30px" width="12" height="12" viewBox="0 0 12 12"><circle cx="6" cy="6" r="5" fill="#fff" stroke="#d9a441" stroke-width="1"/><path d="M4.300 4.800a1.700 1.700 0 1 1 2.400 1.500q-0.700 0.400-0.700 1.200" fill="none" stroke="#d9a441" stroke-width="1"/><circle cx="6" cy="9" r="0.600" fill="#d9a441"/></svg>
<div class="gb" style="left:9px;top:54px;width:256px;height:27px;"></div>
<div class="btn" style="left:13.5px;top:59px;width:118.0px;height:17.5px;"><div class="m" style="margin-top:3.500px">Check Case...</div></div>
<div class="btn" style="left:144px;top:59px;width:118px;height:17.5px;background:#d6d6d6;border-color:#d6d6d6"><div class="m" style="margin-top:3.500px;color:#9a9a9a">Preview Mesh Motion...</div></div>
<div class="a m b" style="left:9px;top:86.1px;">Time Advancement</div>
<div class="gb" style="left:9px;top:96px;width:256px;height:32px;"></div>
<div class="a m" style="left:13px;top:97.6px;">Type</div>
<div class="a m" style="left:144px;top:97.6px;">Method</div>
<div class="fld" style="left:13px;top:109.5px;width:118.5px;height:14.5px;"></div>
<div class="a m" style="left:16.5px;top:112.6px;">Fixed</div>
<div class="dd" style="left:120.5px;top:115.5px"></div>
<div class="fld" style="left:144px;top:109.5px;width:118.5px;height:14.5px;"></div>
<div class="a m" style="left:148px;top:112.6px;">User-Specified</div>
<div class="dd" style="left:252.0px;top:115.5px"></div>
<div class="a m b" style="left:13px;top:127.1px;">Parameters</div>
<div class="gb" style="left:10px;top:137px;width:254px;height:93px;"></div>
<div class="a m" style="left:15px;top:139.6px;">Number of Time Steps</div>
<div class="a m" style="left:144px;top:139.6px;">Time Step Size [s]</div>
<div class="fld" style="left:15px;top:151.5px;width:116.5px;height:14.5px;"></div>
<div class="a m" style="left:21px;top:154.6px;">2500</div>
<div class="sp" style="left:123.5px;top:154.5px"></div>
<div class="fld" style="left:144px;top:152px;width:100px;height:14.5px;"></div>
<div class="a m" style="left:146px;top:155.1px;">9.999999974752e-7</div>
<div class="dd" style="left:250.0px;top:158.0px"></div>
<div class="a m" style="left:15px;top:169.6px;">Max Iterations/Time Step</div>
<div class="a m" style="left:144px;top:172.1px;">Reporting Interval</div>
<div class="fld" style="left:15px;top:182px;width:116.5px;height:14px;"></div>
<div class="a m" style="left:21px;top:185.1px;">20</div>
<div class="sp" style="left:123.5px;top:185px"></div>
<div class="fld" style="left:144px;top:184.5px;width:118.5px;height:14.0px;"></div>
<div class="a m" style="left:150px;top:187.1px;">1</div>
<div class="sp" style="left:252px;top:187px"></div>
<div class="a m" style="left:15px;top:200.6px;">Profile Update Interval</div>
<div class="fld" style="left:15px;top:213px;width:116.5px;height:14px;"></div>
<div class="a m" style="left:21px;top:215.6px;">1</div>
<div class="sp" style="left:123.5px;top:215.5px"></div>
<div class="a m b" style="left:12px;top:233.1px;">Options</div>
<div class="gb" style="left:10px;top:242px;width:254px;height:47.5px;"></div>
<div class="cb" style="left:16.5px;top:246.5px;width:9.5px;height:9.5px;"></div>
<div class="a m" style="left:30px;top:247.1px;">Extrapolate Variables</div>
<div class="cb" style="left:16.5px;top:261px;width:9.5px;height:9.5px;"></div>
<div class="a m" style="left:30px;top:261.6px;">Report Simulation Status</div>
<div class="cb" style="left:16.5px;top:275.5px;width:9.5px;height:9.5px;"></div>
<div class="a m g" style="left:30px;top:276.1px;">Loosely Coupled Conjugate Heat Transfer</div>
<div class="a m b" style="left:9px;top:297.1px;">Solution Processing</div>
<div class="a m b" style="left:12px;top:308.6px;">Statistics</div>
<div class="gb" style="left:10px;top:317.5px;width:254px;height:19.0px;"></div>
<div class="cb" style="left:16.5px;top:322.5px;width:9.5px;height:9.5px;"></div>
<div class="a m" style="left:30px;top:323.1px;">Data Sampling for Time Statistics</div>
<div class="btn" style="left:13.5px;top:340px;width:249.0px;height:18.5px;"><div class="m" style="margin-top:4px">Data File Quantities...</div></div>
<div class="a m b" style="left:9px;top:366.6px;">Solution Advancement</div>
<div class="btn" style="left:13.5px;top:380.5px;width:249.0px;height:18.0px;"><div class="m" style="margin-top:4px">Calculate</div></div>
<div class="gb" style="left:9px;top:401px;width:256px;height:1px;border-width:1px 0 0 0"></div>
<div class="a" style="left:270px;top:3px;width:1px;height:583px;background:#d4d4d4"></div>
<div class="a" style="left:3px;top:576px;width:267px;height:10px;background:#5e6a80"></div>
<div class="a" style="left:3px;top:576px;width:13px;height:10px;background:#aab4c0"></div>
<div class="a" style="left:254px;top:576px;width:16px;height:10px;background:#aab4c0"></div>
<svg class="a" style="left:8px;top:578.5px" width="4" height="5" viewBox="0 0 4 5"><path d="M3.500 0l-3 2.500 3 2.500z" fill="#6a7484"/></svg>
<svg class="a" style="left:260px;top:578.5px" width="4" height="5" viewBox="0 0 4 5"><path d="M0.500 0l3 2.500-3 2.500z" fill="#6a7484"/></svg>
</div>
<div class="a" id="gfx">
<div class="tb" style="left:4px;top:13.5px;width:19.5px;height:18.0px;"></div>
<svg class="a" style="left:6.75px;top:15.5px;" width="14" height="14" viewBox="0 0 14 14"><circle cx="7" cy="7" r="6" fill="#f3d999" stroke="#d9a441" stroke-width="1"/><circle cx="7" cy="7" r="3.500" fill="none" stroke="#fff4d6" stroke-width="1" stroke-dasharray="1.500 1"/></svg>
<div class="tb" style="left:4px;top:36px;width:19.5px;height:18px;"></div>
<svg class="a" style="left:6.75px;top:38.0px;" width="14" height="14" viewBox="0 0 14 14"><path d="M2 5l3-3h7.500v7.500l-3 3h-7.500z" fill="#d9a441" stroke="#4a3a10" stroke-width="0.900"/><path d="M2 5h7.500v7.500M9.500 5l3-3" fill="none" stroke="#4a3a10" stroke-width="0.900"/><rect x="7" y="4" width="4" height="4" fill="#fff" stroke="#333" stroke-width="0.600"/></svg>
<div class="tb" style="left:4px;top:69.5px;width:19.5px;height:18.0px;"></div>
<svg class="a" style="left:6.75px;top:71.5px;" width="14" height="14" viewBox="0 0 14 14"><path d="M4.500 1.500v9.500l2.300-2.200 1.800 4 1.600-0.700-1.800-3.900h3.100z" fill="#d9a441" stroke="#b5852a" stroke-width="0.600"/></svg>
<div class="tb" style="left:3.5px;top:92.5px;width:21.0px;height:19.5px;border:1.500px solid #8a8f99;"></div>
<svg class="a" style="left:7.0px;top:95.25px;" width="14" height="14" viewBox="0 0 14 14"><path d="M3 5.500a4.500 4.500 0 0 1 8-1" fill="none" stroke="#d9a441" stroke-width="1.300"/><path d="M11.500 9a4.500 4.500 0 0 1-8 1" fill="none" stroke="#333" stroke-width="1.300"/><path d="M11.500 2v3h-3z" fill="#d9a441"/><path d="M3 12.500v-3h3z" fill="#333"/></svg>
<div class="tb" style="left:4px;top:117px;width:19.5px;height:17px;"></div>
<svg class="a" style="left:6.75px;top:118.5px;" width="14" height="14" viewBox="0 0 14 14"><path d="M7 1v12M1 7h12" stroke="#d9a441" stroke-width="1" stroke-dasharray="2 1.500"/><path d="M7 0l1.800 2.500h-3.600zM7 14l1.800-2.500h-3.600zM0 7l2.500-1.800v3.600zM14 7l-2.500-1.800v3.600z" fill="#333"/></svg>
<div class="tb" style="left:4px;top:140px;width:19.5px;height:18.5px;"></div>
<svg class="a" style="left:6.75px;top:142.25px;" width="14" height="14" viewBox="0 0 14 14"><circle cx="6" cy="6" r="3.800" fill="#fff7e4" stroke="#e0b35a" stroke-width="1.100"/><path d="M8.800 8.800l3 3.200" stroke="#e0b35a" stroke-width="1.500"/><path d="M0.500 6h2.500M12 5l1.800 1-1.800 1" stroke="#333" stroke-width="0.900" fill="none"/></svg>
<div class="tb" style="left:4px;top:162.5px;width:19.5px;height:18.5px;"></div>
<svg class="a" style="left:6.75px;top:164.75px;" width="14" height="14" viewBox="0 0 14 14"><circle cx="6" cy="6" r="3.800" fill="#fff7e4" stroke="#e0b35a" stroke-width="1.100"/><path d="M8.800 8.800l3 3.200" stroke="#e0b35a" stroke-width="1.500"/></svg>
<div class="tb" style="left:4px;top:185px;width:19.5px;height:18.5px;"></div>
<svg class="a" style="left:6.75px;top:187.25px;" width="14" height="14" viewBox="0 0 14 14"><circle cx="7" cy="7" r="5.500" fill="#fff" stroke="#444" stroke-width="1"/><path d="M7 6v4.500" stroke="#c9a050" stroke-width="1.300"/><circle cx="7" cy="4" r="0.800" fill="#c9a050"/></svg>
<div class="tb" style="left:4px;top:218.5px;width:19.5px;height:18.5px;"></div>
<svg class="a" style="left:6.75px;top:220.75px;" width="14" height="14" viewBox="0 0 14 14"><path d="M2.500 1.500v9.500h8z" fill="#1c1c1c"/><path d="M4 4l5 3.500-5 2z" fill="#d9a441"/><path d="M1.500 12.500h11" stroke="#d9a441" stroke-width="1.500"/></svg>
<div class="tb" style="left:4px;top:241.5px;width:19.5px;height:18.5px;"></div>
<svg class="a" style="left:6.75px;top:243.75px;" width="14" height="14" viewBox="0 0 14 14"><circle cx="6" cy="6" r="3.800" fill="#fff7e4" stroke="#e0b35a" stroke-width="1.100"/><path d="M8.800 8.800l3 3.200" stroke="#e0b35a" stroke-width="1.500"/><path d="M4 5h4M4 7h4" stroke="#d9a441" stroke-width="0.800"/></svg>
<div class="tb" style="left:4px;top:264px;width:19.5px;height:18.5px;"></div>
<svg class="a" style="left:6.75px;top:266.25px;" width="14" height="14" viewBox="0 0 14 14"><circle cx="6" cy="6" r="3.800" fill="#fff7e4" stroke="#e0b35a" stroke-width="1.100"/><path d="M8.800 8.800l3 3.200" stroke="#e0b35a" stroke-width="1.500"/><path d="M4 6h4M6 4v4" stroke="#d9a441" stroke-width="0.900"/></svg>
<div class="tb" style="left:4px;top:287px;width:19.5px;height:18.5px;"></div>
<svg class="a" style="left:6.75px;top:289.25px;" width="14" height="14" viewBox="0 0 14 14"><circle cx="6" cy="6" r="3.800" fill="#fff7e4" stroke="#e0b35a" stroke-width="1.100"/><path d="M8.800 8.800l3 3.200" stroke="#e0b35a" stroke-width="1.500"/><path d="M4 6h4" stroke="#d9a441" stroke-width="0.900"/></svg>
<div class="tb" style="left:4px;top:309.5px;width:19.5px;height:18.0px;"></div>
<svg class="a" style="left:6.75px;top:311.5px;" width="14" height="14" viewBox="0 0 14 14"><path d="M7 2v5.500l-4.500 4M7 7.500l4.500 3" fill="none" stroke="#333" stroke-width="1.200"/><circle cx="12.500" cy="12" r="0.900" fill="#c9a050"/></svg>
<div class="tb" style="left:807px;top:13px;width:19px;height:18.5px;"></div>
<svg class="a" style="left:809.5px;top:15.25px;" width="14" height="14" viewBox="0 0 14 14"><ellipse cx="7" cy="4.500" rx="5.500" ry="2.800" fill="#d9a441"/><ellipse cx="7" cy="10" rx="5.500" ry="2.500" fill="#f4e3b5" stroke="#d9a441" stroke-width="0.700"/><path d="M2 10h10" stroke="#d9a441" stroke-width="0.800"/></svg>
<div class="tb" style="left:807px;top:35.5px;width:19px;height:18.5px;"></div>
<svg class="a" style="left:809.5px;top:37.75px;" width="14" height="14" viewBox="0 0 14 14"><path d="M5.500 1.500c-4 1-4 10 0 11c3-1 4-4 4-5.500s-1-4.500-4-5.500z" fill="#d9a441"/><path d="M8 8c2-3 5-3 5-1s-3 5-5 4.500z" fill="#5a5a5a"/></svg>
<div class="tb" style="left:807px;top:58px;width:19px;height:19.5px;border:1px dashed #9a9fb0;background:#eee6d6;"></div>
<svg class="a" style="left:809.5px;top:60.75px;" width="14" height="14" viewBox="0 0 14 14"><ellipse cx="7" cy="7" rx="3" ry="5.800" fill="#d9a441"/><path d="M1.500 2l2.500 3M1 7h3M1.500 12l2.500-3M12.500 2l-2.500 3M13 7h-3M12.500 12l-2.500-3" stroke="#e8c880" stroke-width="0.900"/></svg>
<div class="tb" style="left:807px;top:91.5px;width:19px;height:19.0px;background:#e2e2e2;border-color:#d8d8d8;"></div>
<svg class="a" style="left:809.5px;top:94.0px;" width="14" height="14" viewBox="0 0 14 14"><path d="M2 7.500q5-5 10 0q-5 4.500-10 0z" fill="none" stroke="#777" stroke-width="0.900"/><circle cx="7" cy="7.500" r="1.600" fill="none" stroke="#777" stroke-width="0.800"/><path d="M3 3.500l8-1" stroke="#999" stroke-width="0.800"/></svg>
<div class="tb" style="left:807px;top:114px;width:19px;height:19px;background:#e2e2e2;border-color:#d8d8d8;"></div>
<svg class="a" style="left:809.5px;top:116.5px;" width="14" height="14" viewBox="0 0 14 14"><path d="M2 8q5-5 10 0q-5 4.500-10 0z" fill="none" stroke="#777" stroke-width="0.900"/><circle cx="7" cy="8" r="1.600" fill="none" stroke="#777" stroke-width="0.800"/><path d="M4 4l1 1.500M7 3v2M10 4l-1 1.500" stroke="#888" stroke-width="0.800"/></svg>
<div class="tb" style="left:807px;top:136.5px;width:19px;height:19.5px;"></div>
<svg class="a" style="left:809.5px;top:139.25px;" width="14" height="14" viewBox="0 0 14 14"><path d="M3 2.500h9v9" fill="none" stroke="#888" stroke-width="0.900" stroke-dasharray="1.200 1"/><path d="M3 6q5 0 5.500 5.500" fill="none" stroke="#333" stroke-width="1.300"/><path d="M1 6.500l3-2.500v4.500z" fill="#333"/></svg>
<div class="tb" style="left:807px;top:170px;width:19px;height:19px;"></div>
<svg class="a" style="left:809.5px;top:172.5px;" width="14" height="14" viewBox="0 0 14 14"><path d="M3 1.500v10.500h10" fill="none" stroke="#333" stroke-width="1.200"/><path d="M3 12l6.500-7" stroke="#333" stroke-width="1"/><path d="M6 12h6" stroke="#d9a441" stroke-width="1.500"/></svg>
<div class="tb" style="left:807px;top:193px;width:19px;height:18.5px;"></div>
<svg class="a" style="left:809.5px;top:195.25px;" width="14" height="14" viewBox="0 0 14 14"><rect x="1.500" y="5" width="11" height="4" rx="2" fill="#fff" stroke="#d9a441" stroke-width="1"/><rect x="1.500" y="5" width="6.500" height="4" rx="2" fill="#d9a441"/><rect x="1" y="5.500" width="2.500" height="3" fill="#6a5a20"/></svg>
<div class="tb" style="left:807px;top:215.5px;width:19px;height:18.5px;"></div>
<svg class="a" style="left:809.5px;top:217.75px;" width="14" height="14" viewBox="0 0 14 14"><path d="M2.500 2h7l2.500 2.500v8h-9.500z" fill="#fff" stroke="#444" stroke-width="1.100"/><path d="M4.500 7.500h5M4.500 10h3" stroke="#777" stroke-width="1"/></svg>
<div class="tb" style="left:807px;top:238.5px;width:19px;height:19.0px;"></div>
<svg class="a" style="left:809.5px;top:241.0px;" width="14" height="14" viewBox="0 0 14 14"><rect x="2" y="3" width="4" height="8.500" fill="#e9dcb4" stroke="#666" stroke-width="0.900"/><rect x="2" y="3" width="2" height="8.500" fill="#666"/><path d="M8 5.500h4M8 8.500h4" stroke="#888" stroke-width="1"/></svg>
<div class="tb" style="left:807px;top:271.5px;width:19px;height:19.0px;"></div>
<svg class="a" style="left:809.5px;top:274.0px;" width="14" height="14" viewBox="0 0 14 14"><rect x="2.500" y="2.500" width="9" height="9.500" fill="#fff" stroke="#222" stroke-width="1.200"/><path d="M2.500 2.500v9.500" stroke="#111" stroke-width="2.500"/><path d="M2.500 2.500h9" stroke="#d9a441" stroke-width="1.500"/></svg>
<div class="tb" style="left:807px;top:294px;width:19px;height:19px;"></div>
<svg class="a" style="left:809.5px;top:296.5px;" width="14" height="14" viewBox="0 0 14 14"><rect x="1.500" y="2.500" width="11" height="10" fill="#fff" stroke="#d9a441" stroke-width="1"/><circle cx="7" cy="7.500" r="2" fill="#111"/></svg>
<div class="a" style="left:812px;top:6px;width:9px;height:1px;border-top:1px dotted #ccc"></div>
<div class="a" style="left:812px;top:86px;width:9px;height:1px;border-top:1px dotted #ccc"></div>
<div class="a" style="left:812px;top:164px;width:9px;height:1px;border-top:1px dotted #ccc"></div>
<div class="a" style="left:812px;top:266px;width:9px;height:1px;border-top:1px dotted #ccc"></div>
<div class="a" style="left:9px;top:61px;width:9px;height:1px;border-top:1px dotted #ddd"></div>
<div class="a" style="left:9px;top:210px;width:9px;height:1px;border-top:1px dotted #ddd"></div>
<div class="a" style="left:30px;top:3px;width:387px;height:17px;background:#fff"></div>
<svg class="a" style="left:33.5px;top:6px;" width="10" height="10" viewBox="0 0 10 10"><rect x="0" y="0" width="10" height="10" rx="1" fill="#2f7fe0"/><path d="M3.500 2.500h3.500v1.200h-2.200v1.200h1.800v1.100h-1.800v2h-1.300z" fill="#fff"/></svg>
<div class="a m b" style="left:214.5px;top:6.2px;font-size:8px;letter-spacing:-0.1px">Mesh</div>
<svg class="a" style="left:402px;top:8px;" width="8" height="8" viewBox="0 0 8 8"><path d="M1 1l6 6M7 1l-6 6" stroke="#111" stroke-width="1.500"/></svg>
<div class="a" style="left:30px;top:20px;width:772.5px;height:413px;background:linear-gradient(#cacfe3 0%,#ffffff 98%)"></div>
<div class="a" style="left:417px;top:3px;width:385.5px;height:18px;background:#cacfe3"></div>
<svg class="a" style="left:421px;top:6px;" width="10" height="10" viewBox="0 0 10 10"><rect x="0" y="0" width="10" height="10" rx="1" fill="#7d8088"/><path d="M3.500 2.500h3.500v1.200h-2.200v1.200h1.800v1.100h-1.800v2h-1.300z" fill="#e8e8e8"/></svg>
<div class="a m b" style="left:567px;top:6.2px;font-size:8px;letter-spacing:0.550px;color:#333">Scaled Residuals</div>
<svg class="a" style="left:789px;top:8px;" width="8" height="8" viewBox="0 0 8 8"><path d="M1 1l6 6M7 1l-6 6" stroke="#111" stroke-width="1.500"/></svg>
<svg class="a" style="left:30px;top:20px;" width="773" height="413" viewBox="0 0 773 413"><rect x="1.1999999999999886" y="2.3000000000000114" width="132.8" height="141.0" fill="none" stroke="#3a3d45" stroke-width="1.400"/><text class="ch" x="66.5" y="14.300000000000011" font-size="11.600" text-anchor="middle">Residuals</text><path d="M3.5 26.5H27.5" stroke="#151515" stroke-width="2"/><text class="ch" x="30" y="30.099999999999994" font-size="11.600">continuity</text><path d="M3.5 41.5H27.5" stroke="#f2282a" stroke-width="2"/><text class="ch" x="30" y="45.099999999999994" font-size="11.600">x-velocity</text><path d="M3.5 57H27.5" stroke="#44e044" stroke-width="2"/><text class="ch" x="30" y="60.599999999999994" font-size="11.600">y-velocity</text><path d="M3.5 72.5H27.5" stroke="#2a22cc" stroke-width="2"/><text class="ch" x="30" y="76.1" font-size="11.600">z-velocity</text><path d="M3.5 88H27.5" stroke="#3ae6f2" stroke-width="2"/><text class="ch" x="30" y="91.6" font-size="11.600">energy</text><path d="M3.5 103.5H27.5" stroke="#f0289c" stroke-width="2"/><text class="ch" x="30" y="107.1" font-size="11.600">k</text><path d="M3.5 119.5H27.5" stroke="#f6f648" stroke-width="2"/><text class="ch" x="30" y="123.1" font-size="11.600">epsilon</text><path d="M3.5 134.5H27.5" stroke="#f08a4c" stroke-width="2"/><text class="ch" x="30" y="138.10000000000002" font-size="11.600">h2o</text><path d="M231.5 41.80000000000001V328.8H695.8M224.0 328.80h7.500M228.0 320.18h3.500M228.0 315.13h3.500M228.0 311.55h3.500M228.0 306.51h3.500M228.0 302.93h3.500M224.0 300.15h7.500M228.0 291.53h3.500M228.0 286.48h3.500M228.0 282.90h3.500M228.0 277.86h3.500M228.0 274.28h3.500M224.0 271.50h7.500M228.0 262.88h3.500M228.0 257.83h3.500M228.0 254.25h3.500M228.0 249.21h3.500M228.0 245.63h3.500M224.0 242.85h7.500M228.0 234.23h3.500M228.0 229.18h3.500M228.0 225.60h3.500M228.0 220.56h3.500M228.0 216.98h3.500M224.0 214.20h7.500M228.0 205.58h3.500M228.0 200.53h3.500M228.0 196.95h3.500M228.0 191.91h3.500M228.0 188.33h3.500M224.0 185.55h7.500M228.0 176.93h3.500M228.0 171.88h3.500M228.0 168.30h3.500M228.0 163.26h3.500M228.0 159.68h3.500M224.0 156.90h7.500M228.0 148.28h3.500M228.0 143.23h3.500M228.0 139.65h3.500M228.0 134.61h3.500M228.0 131.03h3.500M224.0 128.25h7.500M228.0 119.63h3.500M228.0 114.58h3.500M228.0 111.00h3.500M228.0 105.96h3.500M228.0 102.38h3.500M224.0 99.60h7.500M228.0 90.98h3.500M228.0 85.93h3.500M228.0 82.35h3.500M228.0 77.31h3.500M228.0 73.73h3.500M224.0 70.95h7.500M228.0 62.33h3.500M228.0 57.28h3.500M228.0 53.70h3.500M228.0 48.66h3.500M228.0 45.08h3.500M224.0 42.30h7.500M231.50 328.8v5M270.15 328.8v2.5M308.80 328.8v5M347.45 328.8v2.5M386.10 328.8v5M424.75 328.8v2.5M463.40 328.8v5M502.05 328.8v2.5M540.70 328.8v5M579.35 328.8v2.5M618.00 328.8v5M656.65 328.8v2.5M695.30 328.8v5" fill="none" stroke="#1c1c1c" stroke-width="1.100"/><text class="ch" x="216.5" y="332.50" font-size="10.400" text-anchor="end">1e-08</text><text class="ch" x="216.5" y="303.85" font-size="10.400" text-anchor="end">1e-07</text><text class="ch" x="216.5" y="275.20" font-size="10.400" text-anchor="end">1e-06</text><text class="ch" x="216.5" y="246.55" font-size="10.400" text-anchor="end">1e-05</text><text class="ch" x="216.5" y="217.90" font-size="10.400" text-anchor="end">1e-04</text><text class="ch" x="216.5" y="189.25" font-size="10.400" text-anchor="end">1e-03</text><text class="ch" x="216.5" y="160.60" font-size="10.400" text-anchor="end">1e-02</text><text class="ch" x="216.5" y="131.95" font-size="10.400" text-anchor="end">1e-01</text><text class="ch" x="216.5" y="103.30" font-size="10.400" text-anchor="end">1e+00</text><text class="ch" x="216.5" y="74.65" font-size="10.400" text-anchor="end">1e+01</text><text class="ch" x="216.5" y="46.00" font-size="10.400" text-anchor="end">1e+02</text><text class="ch" x="231.50" y="349.5" font-size="10.400" text-anchor="middle">0</text><text class="ch" x="308.80" y="349.5" font-size="10.400" text-anchor="middle">20</text><text class="ch" x="386.10" y="349.5" font-size="10.400" text-anchor="middle">40</text><text class="ch" x="463.40" y="349.5" font-size="10.400" text-anchor="middle">60</text><text class="ch" x="540.70" y="349.5" font-size="10.400" text-anchor="middle">80</text><text class="ch" x="618.00" y="349.5" font-size="10.400" text-anchor="middle">100</text><text class="ch" x="695.30" y="349.5" font-size="10.400" text-anchor="middle">120</text><text class="ch" x="462.5" y="374" font-size="18.200" text-anchor="middle">Iterations</text><polyline points="235.4,99.0 239.2,98.7 243.1,99.6 247.0,106.5 250.8,110.7 254.7,114.9 258.6,118.4 262.4,121.4 266.3,124.5 270.1,126.9 274.0,129.2 277.9,131.2 281.7,132.5 285.6,133.8 289.5,134.7 293.3,135.3 297.2,136.0 301.1,136.3 304.9,136.6 308.8,136.8 312.7,92.2 316.5,91.0 320.4,96.5 324.3,102.0 328.1,106.9 332.0,111.5 335.9,116.2 339.7,119.6 343.6,123.0 347.5,126.1 351.3,128.4 355.2,130.8 359.0,132.5 362.9,133.9 366.8,135.3 370.6,135.9 374.5,136.4 378.4,136.9 382.2,137.5 386.1,138.0 390.0,90.7 393.8,94.0 397.7,97.2 401.6,100.8 405.4,105.6 409.3,110.3 413.2,114.1 417.0,117.9 420.9,121.5 424.8,124.5 428.6,127.6 432.5,130.0 436.3,132.1 440.2,134.3 444.1,135.5 447.9,136.8 451.8,137.9 455.7,138.4 459.5,138.9 463.4,139.4 467.3,94.9 471.1,100.0 475.0,103.0 478.9,107.2 482.7,111.6 486.6,115.5 490.5,119.4 494.3,123.0 498.2,126.3 502.0,129.6 505.9,133.0 509.8,134.9 513.6,136.8 517.5,138.3 521.4,139.0 525.2,139.8 529.1,140.2 533.0,140.5 536.8,140.8 540.7,141.1 544.6,99.6 548.4,103.9 552.3,108.5 556.2,113.2 560.0,117.6 563.9,121.9 567.8,126.1 571.6,129.1 575.5,132.0 579.3,134.6 583.2,136.0 587.1,137.5 590.9,138.7 594.8,139.6 598.7,140.4 602.5,140.7 606.4,140.9 610.3,141.1 614.1,141.2 618.0,141.4 621.9,93.0 625.7,98.5 629.6,101.6 633.5,104.8" fill="none" stroke="#151515" stroke-width="1.700" stroke-linejoin="round"/><polyline points="235.4,234.3 239.2,165.5 243.1,130.8 247.0,136.2 250.8,141.4 254.7,146.1 258.6,150.8 262.4,155.5 266.3,160.3 270.1,165.9 274.0,171.4 277.9,177.0 281.7,182.9 285.6,188.9 289.5,193.8 293.3,198.0 297.2,202.2 301.1,204.7 304.9,207.3 308.8,209.9 312.7,125.4 316.5,95.3 320.4,116.2 324.3,132.1 328.1,141.2 332.0,147.3 335.9,153.5 339.7,159.0 343.6,164.5 347.5,170.0 351.3,175.3 355.2,180.7 359.0,185.2 362.9,189.7 366.8,194.1 370.6,199.1 374.5,204.0 378.4,207.2 382.2,209.8 386.1,212.5 390.0,125.4 393.8,102.5 397.7,131.1 401.6,143.1 405.4,148.6 409.3,153.2 413.2,157.8 417.0,163.2 420.9,168.6 424.8,173.9 428.6,179.1 432.5,184.2 436.3,189.2 440.2,194.1 444.1,198.4 447.9,202.6 451.8,206.3 455.7,208.8 459.5,211.2 463.4,213.6 467.3,128.3 471.1,105.9 475.0,122.4 478.9,140.0 482.7,143.1 486.6,149.0 490.5,154.8 494.3,160.3 498.2,165.2 502.0,170.2 505.9,177.9 509.8,184.1 513.6,188.9 517.5,193.7 521.4,198.3 525.2,203.0 529.1,207.3 533.0,209.9 536.8,212.5 540.7,215.1 544.6,128.3 548.4,107.7 552.3,124.9 556.2,142.3 560.0,142.3 563.9,149.0 567.8,155.8 571.6,161.0 575.5,166.2 579.3,171.4 583.2,176.6 587.1,181.8 590.9,187.2 594.8,192.6 598.7,198.0 602.5,203.0 606.4,207.5 610.3,210.0 614.1,212.6 618.0,215.1 621.9,174.1 625.7,148.3 629.6,134.0 633.5,159.8" fill="none" stroke="#f2282a" stroke-width="1.700" stroke-linejoin="round"/><polyline points="235.4,65.2 239.2,156.9 243.1,141.1 247.0,144.0 250.8,146.8 254.7,151.2 258.6,155.6 262.4,160.1 266.3,164.6 270.1,169.7 274.0,174.7 277.9,179.8 281.7,185.2 285.6,190.6 289.5,195.0 293.3,198.9 297.2,202.7 301.1,205.3 304.9,207.9 308.8,210.5 312.7,128.3 316.5,113.1 320.4,125.4 324.3,136.4 328.1,143.8 332.0,149.6 335.9,155.5 339.7,161.1 343.6,166.7 347.5,172.1 351.3,177.1 355.2,182.1 359.0,186.3 362.9,190.5 366.8,194.7 370.6,199.7 374.5,204.6 378.4,207.7 382.2,210.2 386.1,212.8 390.0,128.3 393.8,113.9 397.7,135.4 401.6,144.1 405.4,149.5 409.3,154.9 413.2,160.3 417.0,166.0 420.9,171.6 424.8,177.3 428.6,182.5 432.5,186.6 436.3,190.6 440.2,194.7 444.1,199.0 447.9,203.2 451.8,206.9 455.7,209.2 459.5,211.6 463.4,213.9 467.3,131.1 471.1,113.9 475.0,131.8 478.9,145.6 482.7,150.6 486.6,156.3 490.5,162.1 494.3,166.9 498.2,170.8 502.0,174.7 505.9,179.9 509.8,184.9 513.6,189.6 517.5,194.3 521.4,198.9 525.2,203.6 529.1,207.8 533.0,210.3 536.8,212.8 540.7,215.3 544.6,131.1 548.4,118.0 552.3,129.9 556.2,146.9 560.0,148.3 563.9,154.6 567.8,160.9 571.6,166.0 575.5,171.1 579.3,175.9 583.2,179.1 587.1,182.4 590.9,187.8 594.8,193.2 598.7,198.5 602.5,203.6 606.4,208.1 610.3,210.5 614.1,212.9 618.0,215.3 621.9,177.0 625.7,152.6 629.6,137.7 633.5,162.6" fill="none" stroke="#44e044" stroke-width="1.700" stroke-linejoin="round"/><polyline points="235.4,115.1 239.2,159.8 243.1,136.8 247.0,142.4 250.8,147.7 254.7,152.3 258.6,157.0 262.4,161.6 266.3,166.3 270.1,171.3 274.0,176.3 277.9,181.3 281.7,186.3 285.6,191.3 289.5,195.7 293.3,199.6 297.2,203.6 301.1,206.0 304.9,208.4 308.8,210.8 312.7,131.1 316.5,118.2 320.4,128.3 324.3,138.2 328.1,145.2 332.0,151.1 335.9,156.9 339.7,162.6 343.6,168.4 347.5,173.7 351.3,178.2 355.2,182.7 359.0,186.9 362.9,191.1 366.8,195.3 370.6,200.1 374.5,204.9 378.4,207.9 382.2,210.5 386.1,213.1 390.0,131.1 393.8,116.2 397.7,137.0 401.6,145.5 405.4,151.0 409.3,156.6 413.2,162.1 417.0,167.4 420.9,172.7 424.8,178.1 428.6,183.0 432.5,187.1 436.3,191.2 440.2,195.3 444.1,199.5 447.9,203.8 451.8,207.4 455.7,209.7 459.5,211.9 463.4,214.2 467.3,134.0 471.1,116.2 475.0,133.4 478.9,147.0 482.7,151.5 486.6,157.3 490.5,163.1 494.3,168.0 498.2,171.8 502.0,175.6 505.9,180.6 509.8,185.5 513.6,190.2 517.5,194.8 521.4,199.5 525.2,204.2 529.1,208.4 533.0,210.8 536.8,213.2 540.7,215.6 544.6,134.0 548.4,120.8 552.3,131.8 556.2,148.3 560.0,149.5 563.9,155.8 567.8,162.1 571.6,167.2 575.5,172.3 579.3,177.0 583.2,179.8 587.1,182.7 590.9,188.1 594.8,193.5 598.7,198.8 602.5,203.9 606.4,208.4 610.3,210.8 614.1,213.2 618.0,215.6 621.9,178.7 625.7,153.5 629.6,138.9 633.5,164.1" fill="none" stroke="#2a22cc" stroke-width="1.700" stroke-linejoin="round"/><polyline points="235.4,280.7 239.2,278.9 243.1,291.8 247.0,301.9 250.8,305.3 254.7,305.9 258.6,305.9 262.4,305.9 266.3,305.9 270.1,305.9 274.0,305.9 277.9,305.9 281.7,305.9 285.6,305.9 289.5,305.9 293.3,305.9 297.2,305.9 301.1,305.9 304.9,305.9 308.8,305.9 312.7,277.5 316.5,286.7 320.4,299.6 324.3,305.3 328.1,305.9 332.0,305.9 335.9,305.9 339.7,305.9 343.6,305.9 347.5,305.9 351.3,305.9 355.2,305.9 359.0,305.9 362.9,305.9 366.8,305.9 370.6,305.9 374.5,305.9 378.4,305.9 382.2,305.9 386.1,305.9 390.0,277.5 393.8,286.7 397.7,299.6 401.6,305.3 405.4,305.9 409.3,305.9 413.2,305.9 417.0,305.9 420.9,305.9 424.8,305.9 428.6,305.9 432.5,305.9 436.3,305.9 440.2,305.9 444.1,305.9 447.9,305.9 451.8,305.9 455.7,305.9 459.5,305.9 463.4,305.9 467.3,277.5 471.1,286.7 475.0,299.6 478.9,305.3 482.7,305.9 486.6,305.9 490.5,305.9 494.3,305.9 498.2,305.9 502.0,305.9 505.9,305.9 509.8,305.9 513.6,305.9 517.5,305.9 521.4,305.9 525.2,305.9 529.1,305.9 533.0,305.9 536.8,305.9 540.7,305.9 544.6,276.7 548.4,284.7 552.3,298.4 556.2,304.7 560.0,305.9 563.9,305.9 567.8,305.9 571.6,305.9 575.5,305.9 579.3,305.9 583.2,305.9 587.1,305.9 590.9,305.9 594.8,305.9 598.7,305.9 602.5,305.9 606.4,305.9 610.3,305.9 614.1,305.9 618.0,305.9 621.9,256.9 625.7,266.1 629.6,276.7 633.5,285.8" fill="none" stroke="#3ae6f2" stroke-width="1.700" stroke-linejoin="round"/><polyline points="235.4,234.8 239.2,208.5 243.1,209.9 247.0,225.9 250.8,247.2 254.7,266.1 258.6,282.5 262.4,291.3 266.3,294.9 270.1,298.4 274.0,299.6 277.9,300.8 281.7,301.9 285.6,303.1 289.5,303.8 293.3,304.2 297.2,304.7 301.1,305.1 304.9,305.5 308.8,305.9 312.7,231.1 316.5,231.1 320.4,239.1 324.3,255.0 328.1,270.2 332.0,283.0 335.9,291.0 339.7,293.7 343.6,296.5 347.5,298.9 351.3,300.4 355.2,301.8 359.0,302.9 362.9,303.7 366.8,304.4 370.6,304.7 374.5,305.0 378.4,305.3 382.2,305.6 386.1,305.9 390.0,232.5 393.8,239.1 397.7,247.5 401.6,256.9 405.4,269.4 409.3,279.7 413.2,288.7 417.0,292.3 420.9,295.9 424.8,298.8 428.6,299.8 432.5,300.9 436.3,301.9 440.2,303.0 444.1,303.5 447.9,304.0 451.8,304.4 455.7,304.9 459.5,305.4 463.4,305.9 467.3,232.5 471.1,240.8 475.0,250.6 478.9,254.9 482.7,266.8 486.6,279.5 490.5,290.5 494.3,296.3 498.2,300.4 502.0,302.6 505.9,303.3 509.8,303.8 513.6,304.2 517.5,304.6 521.4,305.0 525.2,305.2 529.1,305.4 533.0,305.5 536.8,305.7 540.7,305.9 544.6,232.5 548.4,243.3 552.3,251.2 556.2,255.2 560.0,268.8 563.9,282.7 567.8,294.4 571.6,298.0 575.5,300.8 579.3,302.1 583.2,303.4 587.1,304.0 590.9,304.2 594.8,304.5 598.7,304.7 602.5,304.9 606.4,305.2 610.3,305.4 614.1,305.6 618.0,305.9 621.9,224.5 625.7,231.7 629.6,235.7 633.5,246.3" fill="none" stroke="#f0289c" stroke-width="1.700" stroke-linejoin="round"/><polyline points="235.4,87.0 239.2,104.6 243.1,122.3 247.0,138.1 250.8,151.2 254.7,164.3 258.6,177.4 262.4,194.3 266.3,211.5 270.1,225.7 274.0,231.7 277.9,233.4 281.7,235.0 285.6,236.7 289.5,237.8 293.3,238.5 297.2,239.1 301.1,238.9 304.9,238.7 308.8,238.6 312.7,152.9 316.5,172.8 320.4,185.6 324.3,191.5 328.1,198.4 332.0,205.6 335.9,220.2 339.7,227.0 343.6,229.9 347.5,232.0 351.3,233.1 355.2,234.1 359.0,234.7 362.9,234.8 366.8,235.0 370.6,235.2 374.5,235.4 378.4,235.6 382.2,235.8 386.1,236.0 390.0,153.5 393.8,174.4 397.7,189.6 401.6,191.6 405.4,194.2 409.3,198.9 413.2,203.6 417.0,210.9 420.9,218.2 424.8,223.8 428.6,228.4 432.5,230.9 436.3,232.4 440.2,233.4 444.1,234.4 447.9,235.0 451.8,235.2 455.7,235.5 459.5,235.7 463.4,236.0 467.3,153.5 471.1,168.1 475.0,182.7 478.9,187.5 482.7,191.5 486.6,192.8 490.5,196.2 494.3,201.1 498.2,208.9 502.0,219.4 505.9,227.5 509.8,231.6 513.6,232.9 517.5,233.9 521.4,234.3 525.2,234.8 529.1,235.2 533.0,235.7 536.8,236.1 540.7,236.5 544.6,154.6 548.4,162.9 552.3,171.1 556.2,179.4 560.0,185.0 563.9,189.0 567.8,195.0 571.6,201.0 575.5,210.4 579.3,219.5 583.2,225.9 587.1,229.8 590.9,231.8 594.8,233.2 598.7,234.0 602.5,234.8 606.4,235.1 610.3,235.4 614.1,235.7 618.0,236.0 621.9,157.8 625.7,164.0 629.6,170.0 633.5,175.5" fill="none" stroke="#f6f648" stroke-width="1.700" stroke-linejoin="round"/><polyline points="235.4,274.4 239.2,97.3 243.1,124.7 247.0,151.5 250.8,177.5 254.7,207.2 258.6,232.0 262.4,233.7 266.3,236.5 270.1,239.4 274.0,110.8 277.9,134.1 281.7,158.7 285.6,184.2 289.5,217.4 293.3,247.2 297.2,260.9 301.1,262.7 304.9,267.4 308.8,272.4 312.7,97.3 316.5,117.0 320.4,137.4 324.3,159.2 328.1,174.1 332.0,182.7 335.9,186.9 339.7,191.1 343.6,195.4 347.5,199.6 351.3,146.9 355.2,171.6 359.0,193.0 362.9,208.0 366.8,223.0 370.6,230.4 374.5,229.7 378.4,234.2 382.2,238.6 386.1,243.1 390.0,102.5 393.8,122.7 397.7,144.0 401.6,164.7 405.4,175.5 409.3,182.5 413.2,187.0 417.0,191.5 420.9,196.0 424.8,200.4 428.6,134.6 432.5,152.8 436.3,154.6 440.2,177.1 444.1,184.5 447.9,194.7 451.8,209.0 455.7,223.4 459.5,234.0 463.4,243.1 467.3,105.6 471.1,126.4 475.0,147.4 478.9,168.4 482.7,178.9 486.6,187.4 490.5,193.8 494.3,200.3 498.2,203.4 502.0,205.6 505.9,148.3 509.8,173.6 513.6,195.2 517.5,216.1 521.4,221.6 525.2,225.4 529.1,228.6 533.0,231.7 536.8,234.7 540.7,237.7 544.6,109.9 548.4,132.2 552.3,154.7 556.2,175.3 560.0,189.8 563.9,201.6 567.8,209.0 571.6,216.3 575.5,221.0 579.3,225.4 583.2,152.6 587.1,174.3 590.9,192.1 594.8,208.9 598.7,227.2 602.5,246.2 606.4,256.4 610.3,260.9 614.1,263.3 618.0,265.8 621.9,56.6 625.7,126.5 629.6,125.4 633.5,134.8" fill="none" stroke="#f08a4c" stroke-width="1.700" stroke-linejoin="round"/></svg>
<div class="a m" style="left:667px;top:437.7px">0 selected</div>
<div class="fld" style="left:715.5px;top:435.5px;width:111.0px;height:14.0px;border-color:#e2e2e2"></div>
<div class="a m" style="left:719.5px;top:438.2px">all</div>
<div class="dd" style="left:815.5px;top:440.5px"></div>
<div class="a" style="left:5px;top:436px;width:3px;height:13px;border-left:1px dotted #ddd"></div>
</div>
<div class="a" id="con">
<div class="a" style="left:0;top:-0.500px;width:830px;height:14.500px;background:#c5cad1"></div>
<div class="a m" style="left:6px;top:2.2px;font-size:8.500px;letter-spacing:-0.1px;font-weight:bold;color:#5f6f88">Console</div>
<svg class="a" style="left:811px;top:4px" width="7" height="7" viewBox="0 0 7 7"><path d="M0.500 2.500h4v4h-4zM2.500 2.500v-2h4v4h-2" fill="none" stroke="#667" stroke-width="0.800"/></svg>
<svg class="a" style="left:823px;top:3.5px" width="5" height="8" viewBox="0 0 5 8"><path d="M4 0.800l-3 3.200 3 3.200" fill="none" stroke="#334" stroke-width="1.200"/></svg>
<div class="a" style="left:0;top:14px;width:819px;height:113px;overflow:hidden">
<div class="cl" style="top:-1.4px;">DPM Iteration ....</div>
<div class="cl" style="top:20.2px;">Updating solution at time level N...</div>
<div class="cl" style="top:30.9px;"> done.</div>
<div class="cl" style="top:63.0px;color:#e8733c;">Warning: atomization model is not valid for these conditions.</div>
<div class="cl" style="top:73.7px;">Injecting 2 particle parcels with mass 8e-10 at t = 5e-06</div>
<div class="cl" style="top:84.4px;">number tracked = 12, evaporated = 2</div>
<div class="cl" style="top:105.8px;">  iter  continuity  x-velocity  y-velocity  z-velocity      energy           k     epsilon         h2o     time/iter</div>
</div>
<div class="a" style="left:779.5px;top:15px;width:17.500px;height:14.500px;background:#e6f01e;border:1px solid #d8e020;border-right-color:#55581c;border-bottom-color:#55581c"></div>
<svg class="a" style="left:784px;top:18px" width="9" height="9" viewBox="0 0 9 9"><path d="M4.500 1l3.500 6.500h-7z" fill="#f0d838" stroke="#c8b020" stroke-width="0.800"/><path d="M4.500 3.500v2.500" stroke="#a08000" stroke-width="0.900"/></svg>
<div class="a" style="left:802px;top:15px;width:16px;height:15px;background:#fff"></div>
<svg class="a" style="left:804.5px;top:17.5px" width="10" height="10" viewBox="0 0 10 10"><circle cx="5" cy="5" r="4.200" fill="#fff" stroke="#888" stroke-width="0.900"/><path d="M5 4.300v3" stroke="#888" stroke-width="0.900"/><circle cx="5" cy="2.900" r="0.500" fill="#888"/></svg>
<div class="a" style="left:820px;top:14px;width:10px;height:102px;background:#c5cfd4"></div>
<div class="a" style="left:820px;top:14px;width:10px;height:14px;background:#aab4c0"></div>
<svg class="a" style="left:822.5px;top:19px" width="5" height="4" viewBox="0 0 5 4"><path d="M0 3.500l2.500-3 2.500 3z" fill="#6a7484"/></svg>
<div class="a" style="left:820px;top:90px;width:10px;height:13.500px;background:#5b667a"></div>
<div class="a" style="left:820px;top:103.5px;width:10px;height:12.500px;background:#aab4c0"></div>
<svg class="a" style="left:822.5px;top:108px" width="5" height="4" viewBox="0 0 5 4"><path d="M0 0.500l2.500 3 2.500-3z" fill="#6a7484"/></svg>
<div class="a" style="left:820px;top:116px;width:10px;height:11px;background:#fff"></div>
<svg class="a" style="left:821.5px;top:117.5px" width="8" height="8" viewBox="0 0 8 8"><path d="M1 4.500l2 2.500 4-6" fill="none" stroke="#111" stroke-width="1.500"/></svg>
</div>
<div class="a" id="tbar">
<div class="a" style="left:293px;top:0;width:33px;height:27px;background:#f0eef4"></div>
<div class="a" style="left:133px;top:25px;width:25px;height:2px;background:#35a8c4"></div>
<div class="a" style="left:166px;top:25px;width:25px;height:2px;background:#35a8c4"></div>
<div class="a" style="left:264px;top:25px;width:26px;height:2px;background:#35a8c4"></div>
<div class="a" style="left:297px;top:25px;width:26px;height:2px;background:#35a8c4"></div>
<svg class="a" style="left:10.0px;top:7.7999999999999545px" width="12" height="12" viewBox="0 0 12 12"><path d="M0 1.800l5-0.800v4.700h-5zM5.800 0.900l6.200-0.900v5.700h-6.200zM0 6.400h5v4.700l-5-0.700zM5.800 6.400h6.200v5.600l-6.200-0.900z" fill="#111"/></svg>
<svg class="a" style="left:42.5px;top:7.7999999999999545px" width="12" height="12" viewBox="0 0 12 12"><circle cx="7.200" cy="4.800" r="3.600" fill="none" stroke="#111" stroke-width="1.200"/><path d="M4.600 7.400l-3.800 3.900" stroke="#111" stroke-width="1.300"/></svg>
<svg class="a" style="left:74.0px;top:7.7999999999999545px" width="12" height="12" viewBox="0 0 12 12"><circle cx="6" cy="6" r="4.600" fill="none" stroke="#111" stroke-width="1.700"/></svg>
<svg class="a" style="left:104.5px;top:8.299999999999955px" width="13" height="11" viewBox="0 0 13 11"><rect x="1" y="2.500" width="7.500" height="6.500" fill="none" stroke="#111" stroke-width="1.200"/><path d="M0 0.700h9.500M0 10.300h2M11 1v2M11 4.500v2M11 8v2.500" stroke="#111" stroke-width="1.200"/></svg>
<svg class="a" style="left:137.0px;top:7.2999999999999545px" width="16" height="13" viewBox="0 0 16 13"><ellipse cx="6.500" cy="5.500" rx="6" ry="5" fill="#1fce6a"/><ellipse cx="11.500" cy="9" rx="3.800" ry="3.200" fill="#e8f6ec"/></svg>
<svg class="a" style="left:170.0px;top:5.7999999999999545px" width="16" height="16" viewBox="0 0 16 16"><circle cx="8" cy="8" r="7.500" fill="#1b7fd4"/><path d="M2 10c0-5 4-7.500 7.500-7c3 0.500 5 3 5 5.500h-8c0 2.500 3 3.500 6 2c-2 4-9 4-10.500-0.500z" fill="#35c8e8"/><path d="M6.500 8.500c0 2.500 3 3.500 6 2c-1 2.500-4 3.500-6.500 2.500s-1.500-4.500 0.500-4.500z" fill="#0c5cb0"/></svg>
<svg class="a" style="left:204.0px;top:6.7999999999999545px" width="14" height="14" viewBox="0 0 14 14"><rect x="0" y="0" width="14" height="14" rx="2.500" fill="#141414"/><path d="M10 4.500a4 4 0 1 0 0.800 3.500h-3.300" fill="none" stroke="#f0a020" stroke-width="1.600"/><path d="M10 4.500a4 4 0 0 0-5-0.800" fill="none" stroke="#e83030" stroke-width="1.600"/></svg>
<svg class="a" style="left:236.0px;top:7.7999999999999545px" width="16" height="12" viewBox="0 0 16 12"><path d="M0 3l5 1 3-2 3 2 5-1-3 4-3 0.500-2 3.500-2-3.500-3-0.500z" fill="#5a5630"/><circle cx="8" cy="5" r="2" fill="#b8b070"/></svg>
<svg class="a" style="left:269.0px;top:5.7999999999999545px" width="16" height="16" viewBox="0 0 16 16"><circle cx="8" cy="8" r="7.500" fill="#f8dc28"/><path d="M8.500 3v7a2 2 0 1 1-1.200-1.800v-5.500l4 1v1.500z" fill="#28b858"/></svg>
<svg class="a" style="left:301.5px;top:6.2999999999999545px" width="15" height="15" viewBox="0 0 15 15"><rect x="0.500" y="0.500" width="14" height="14" rx="1.500" fill="#2f7fe0"/><rect x="3.500" y="2.500" width="8" height="10" fill="#1b5fc4"/><path d="M6 4.500h4v1.400h-2.500v1.400h2v1.300h-2v2.400h-1.500z" fill="#fff"/></svg>
<svg class="a" style="left:985.5px;top:6.899999999999977px" width="13" height="13" viewBox="0 0 13 13"><circle cx="6.500" cy="6.500" r="6" fill="#f8b820"/><circle cx="5.500" cy="5.500" r="3.500" fill="#fccf4a"/></svg>
<div class="tt" style="left:1006.5px;top:8.200000000000045px;font-size:10.200px;letter-spacing:-0.3px">23°C</div>
<div class="tt" style="left:1033px;top:7.7000000000000455px;font-size:9.200px">晴朗</div>
<svg class="a" style="left:1061.5px;top:10.0px" width="9" height="6" viewBox="0 0 9 6"><path d="M1 5l3.500-3.800 3.500 3.800" fill="none" stroke="#111" stroke-width="1.100"/></svg>
<svg class="a" style="left:1076.5px;top:9.5px" width="11" height="8" viewBox="0 0 11 8"><path d="M3 7.200a2.400 2.400 0 0 1 0.300-4.700a3 3 0 0 1 5.500 0.500a2.100 2.100 0 0 1-0.500 4.200z" fill="none" stroke="#111" stroke-width="1"/></svg>
<svg class="a" style="left:1092.5px;top:8.0px" width="11" height="11" viewBox="0 0 11 11"><rect x="0.500" y="1" width="8.500" height="8.500" fill="none" stroke="#111" stroke-width="1"/><path d="M3 6.500a2 2 0 0 1 3.500-2M6.500 3v1.800h-1.800" fill="none" stroke="#111" stroke-width="0.900"/><circle cx="8.500" cy="8.500" r="2" fill="#2a6ad0"/></svg>
<svg class="a" style="left:1108.5px;top:9.5px" width="11" height="8" viewBox="0 0 11 8"><rect x="2" y="2" width="8.500" height="5" fill="#111"/><rect x="0.500" y="3.500" width="1.500" height="2" fill="#111"/><path d="M3.500 0.500h4" stroke="#111" stroke-width="1"/></svg>
<svg class="a" style="left:1126.5px;top:8.5px" width="10" height="10" viewBox="0 0 10 10"><path d="M1 9.500l8.500-8.500v8.500z" fill="none" stroke="#555" stroke-width="0.900"/><path d="M1 9a9 9 0 0 1 8-8M3.500 9.500a6 6 0 0 1 6-6M6 9.500a3.500 3.500 0 0 1 3.500-3.500" fill="none" stroke="#333" stroke-width="0.900"/></svg>
<svg class="a" style="left:1140.5px;top:9.0px" width="11" height="9" viewBox="0 0 11 9"><path d="M0.500 3h2l2.500-2.500v8l-2.500-2.500h-2z" fill="none" stroke="#111" stroke-width="0.900"/><path d="M6.500 2.800a2.500 2.500 0 0 1 0 3.400M8 1.500a4.500 4.500 0 0 1 0 6" fill="none" stroke="#111" stroke-width="0.800"/></svg>
<div class="tt" style="left:1156.5px;top:7.0px;font-size:9.500px">英</div>
<div class="tt" style="left:1198.5px;top:1.2000000000000455px;font-size:8.500px;letter-spacing:-0.2px">9:38</div>
<div class="tt" style="left:1174px;top:14.299999999999955px;font-size:8.500px;letter-spacing:-0.050px">2022/4/11 星期一</div>
<svg class="a" style="left:1252.0px;top:8.0px" width="11" height="10" viewBox="0 0 11 10"><path d="M0.500 0.500h10v7h-5.500l-2.500 2v-2h-2z" fill="#111"/><path d="M2 2.700h7M2 5h5" stroke="#dcdbe3" stroke-width="0.900"/></svg>
<div class="a" style="left:1258.500px;top:14px;width:10px;height:10px;border-radius:50%;background:#e8e6ee;border:1px solid #555"></div>
<div class="tt" style="left:1261.500px;top:13px;font-size:7.500px;font-weight:bold">3</div>
</div>
</body></html>
